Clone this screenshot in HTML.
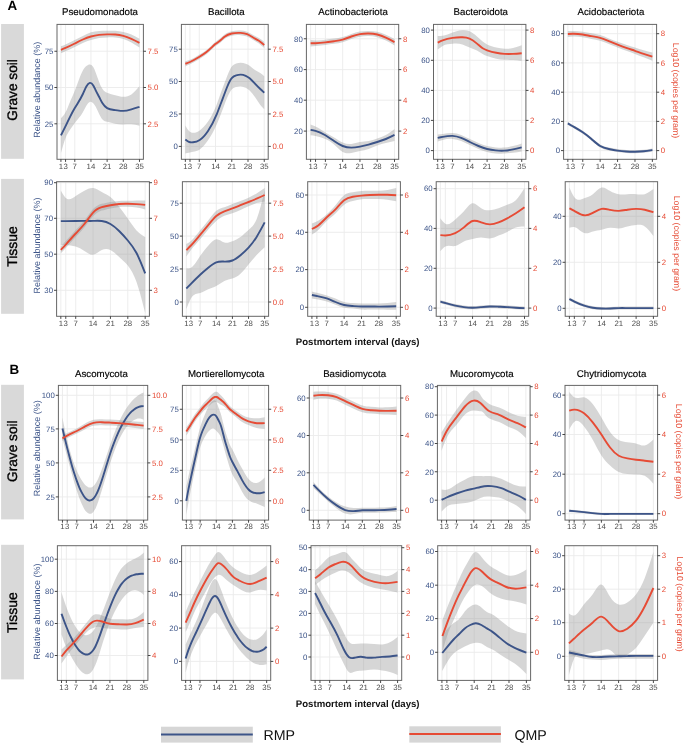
<!DOCTYPE html><html><head><meta charset="utf-8"><style>html,body{margin:0;padding:0;background:#fff;}svg{display:block;will-change:transform;text-rendering:geometricPrecision;}</style></head><body><svg width="685" height="744" viewBox="0 0 685 744">
<rect width="685" height="744" fill="#fff"/>
<text x="7.5" y="10.3" font-size="13.4" font-weight="bold" font-family="Liberation Sans, sans-serif" fill="#000">A</text>
<text x="9.5" y="373.6" font-size="13.4" font-weight="bold" font-family="Liberation Sans, sans-serif" fill="#000">B</text>
<rect x="1.1" y="24.0" width="22.8" height="134.8" fill="#D9D9D9"/>
<text transform="translate(17.3,89.9) rotate(-90)" text-anchor="middle" font-size="13.7" font-family="Liberation Sans, sans-serif" fill="#000" stroke="#000" stroke-width="0.35">Grave soil</text>
<rect x="1.1" y="178.9" width="22.8" height="134.9" fill="#D9D9D9"/>
<text transform="translate(17.3,246.5) rotate(-90)" text-anchor="middle" font-size="14.0" font-family="Liberation Sans, sans-serif" fill="#000" stroke="#000" stroke-width="0.35">Tissue</text>
<rect x="1.1" y="384.8" width="22.8" height="134.6" fill="#D9D9D9"/>
<text transform="translate(17.3,451.2) rotate(-90)" text-anchor="middle" font-size="13.7" font-family="Liberation Sans, sans-serif" fill="#000" stroke="#000" stroke-width="0.35">Grave soil</text>
<rect x="1.1" y="544.8" width="22.8" height="134.6" fill="#D9D9D9"/>
<text transform="translate(17.3,612.6) rotate(-90)" text-anchor="middle" font-size="14.0" font-family="Liberation Sans, sans-serif" fill="#000" stroke="#000" stroke-width="0.35">Tissue</text>
<text x="357.7" y="345.4" text-anchor="middle" font-size="9.6" font-weight="bold" font-family="Liberation Sans, sans-serif" fill="#111">Postmortem interval (days)</text>
<text x="357.7" y="707.4" text-anchor="middle" font-size="9.6" font-weight="bold" font-family="Liberation Sans, sans-serif" fill="#111">Postmortem interval (days)</text>
<rect x="161" y="726.7" width="91.8" height="15.9" fill="#D6D6D6"/>
<line x1="161" x2="252.8" y1="734.6" y2="734.6" stroke="#3C5488" stroke-width="2"/>
<text x="263.5" y="739.8" font-size="14.2" font-family="Liberation Sans, sans-serif" fill="#111">RMP</text>
<rect x="409.3" y="726.3" width="91.6" height="16.3" fill="#D6D6D6"/>
<line x1="409.3" x2="500.9" y1="734.0" y2="734.0" stroke="#E64B35" stroke-width="2"/>
<text x="514.5" y="739.8" font-size="14.2" font-family="Liberation Sans, sans-serif" fill="#111">QMP</text>
<g stroke="#EBEBEB" stroke-width="0.9">
<line x1="60.93" x2="60.93" y1="24.4" y2="159.3"/>
<line x1="65.55" x2="65.55" y1="24.4" y2="159.3"/>
<line x1="74.79" x2="74.79" y1="24.4" y2="159.3"/>
<line x1="90.96" x2="90.96" y1="24.4" y2="159.3"/>
<line x1="107.13" x2="107.13" y1="24.4" y2="159.3"/>
<line x1="123.30" x2="123.30" y1="24.4" y2="159.3"/>
<line x1="139.47" x2="139.47" y1="24.4" y2="159.3"/>
<line x1="57.0" x2="143.4" y1="51.25" y2="51.25"/>
<line x1="57.0" x2="143.4" y1="87.50" y2="87.50"/>
<line x1="57.0" x2="143.4" y1="123.80" y2="123.80"/>
</g>
<clipPath id="cA10"><rect x="57.0" y="24.4" width="86.4" height="134.9"/></clipPath>
<g clip-path="url(#cA10)">
<path d="M60.93,118.20 C62.47,116.69 64.01,115.17 65.55,112.30 C67.09,109.43 68.63,105.19 70.17,101.50 C71.71,97.81 73.25,94.65 74.79,90.80 C77.48,84.06 80.18,75.17 82.87,70.40 C84.03,68.36 85.18,67.07 86.34,66.10 C87.49,65.13 88.65,64.48 89.80,64.50 C90.96,64.52 92.11,65.19 93.27,67.10 C94.04,68.37 94.81,70.19 95.58,72.20 C96.73,75.22 97.89,78.68 99.04,81.70 C100.20,84.72 101.36,87.28 102.51,89.00 C104.05,91.29 105.59,92.07 107.13,92.70 C109.83,93.81 112.52,94.47 115.22,95.20 C117.91,95.93 120.61,96.71 123.30,96.80 C126.00,96.89 128.69,96.27 131.39,94.40 C134.08,92.53 136.78,89.42 139.47,86.30 L139.47,125.80 C136.78,125.10 134.08,124.39 131.39,124.20 C128.69,124.01 126.00,124.32 123.30,124.40 C120.61,124.48 117.91,124.32 115.22,123.80 C112.52,123.28 109.83,122.39 107.13,121.80 C105.59,121.46 104.05,121.22 102.51,119.50 C101.36,118.21 100.20,116.09 99.04,113.70 C97.89,111.31 96.73,108.66 95.58,106.60 C94.81,105.22 94.04,104.11 93.27,103.30 C92.11,102.09 90.96,101.56 89.80,102.00 C88.65,102.44 87.49,103.85 86.34,105.80 C85.18,107.75 84.03,110.24 82.87,112.30 C80.18,117.11 77.48,119.58 74.79,123.00 C73.25,124.96 71.71,127.22 70.17,129.50 C68.63,131.78 67.09,134.06 65.55,138.00 C64.01,141.94 62.47,147.52 60.93,153.10 Z" fill="#999" fill-opacity="0.4"/>
<path d="M60.93,46.20 C62.47,45.67 64.01,45.13 65.55,44.50 C68.63,43.23 71.71,41.56 74.79,40.00 C77.48,38.64 80.18,37.37 82.87,36.00 C85.57,34.63 88.26,33.17 90.96,32.30 C93.65,31.43 96.35,31.17 99.04,31.00 C101.74,30.83 104.44,30.76 107.13,30.70 C109.83,30.64 112.52,30.61 115.22,30.80 C117.91,30.99 120.61,31.41 123.30,32.00 C126.00,32.59 128.69,33.34 131.39,34.50 C134.08,35.66 136.78,37.23 139.47,38.80 L139.47,47.50 C136.78,45.74 134.08,43.98 131.39,42.50 C128.69,41.02 126.00,39.83 123.30,39.00 C120.61,38.17 117.91,37.71 115.22,37.50 C112.52,37.29 109.83,37.33 107.13,37.40 C104.44,37.47 101.74,37.55 99.04,38.00 C96.35,38.45 93.65,39.25 90.96,40.10 C88.26,40.95 85.57,41.83 82.87,43.00 C80.18,44.17 77.48,45.64 74.79,47.00 C71.71,48.56 68.63,49.99 65.55,51.30 C64.01,51.95 62.47,52.58 60.93,53.20 Z" fill="#999" fill-opacity="0.4"/>
<path d="M60.93,135.40 C62.47,132.38 64.01,129.37 65.55,126.20 C67.09,123.03 68.63,119.71 70.17,116.60 C71.71,113.49 73.25,110.60 74.79,108.00 C77.48,103.46 80.18,99.84 82.87,94.00 C84.03,91.50 85.18,88.59 86.34,86.50 C87.49,84.41 88.65,83.14 89.80,82.90 C90.96,82.66 92.11,83.46 93.27,85.40 C94.04,86.69 94.81,88.50 95.58,90.10 C96.73,92.51 97.89,94.47 99.04,96.70 C100.20,98.93 101.36,101.43 102.51,103.30 C104.05,105.80 105.59,107.19 107.13,108.10 C109.83,109.69 112.52,109.77 115.22,110.10 C117.91,110.43 120.61,110.99 123.30,110.90 C126.00,110.81 128.69,110.07 131.39,109.30 C134.08,108.53 136.78,107.71 139.47,106.90" fill="none" stroke="#3C5488" stroke-width="1.9" stroke-linejoin="round" stroke-linecap="butt"/>
<path d="M60.93,49.80 C62.47,49.18 64.01,48.56 65.55,47.90 C68.63,46.57 71.71,45.07 74.79,43.50 C77.48,42.13 80.18,40.72 82.87,39.50 C85.57,38.28 88.26,37.27 90.96,36.50 C93.65,35.73 96.35,35.22 99.04,34.90 C101.74,34.58 104.44,34.47 107.13,34.40 C109.83,34.33 112.52,34.31 115.22,34.50 C117.91,34.69 120.61,35.08 123.30,35.80 C126.00,36.52 128.69,37.58 131.39,38.80 C134.08,40.02 136.78,41.41 139.47,42.80" fill="none" stroke="#E64B35" stroke-width="1.9" stroke-linejoin="round" stroke-linecap="butt"/>
</g>
<rect x="57.0" y="24.4" width="86.4" height="134.9" fill="none" stroke="#666" stroke-width="1"/>
<g stroke="#333" stroke-width="0.9">
<line x1="60.93" x2="60.93" y1="159.3" y2="161.9"/>
<line x1="65.55" x2="65.55" y1="159.3" y2="161.9"/>
<line x1="74.79" x2="74.79" y1="159.3" y2="161.9"/>
<line x1="90.96" x2="90.96" y1="159.3" y2="161.9"/>
<line x1="107.13" x2="107.13" y1="159.3" y2="161.9"/>
<line x1="123.30" x2="123.30" y1="159.3" y2="161.9"/>
<line x1="139.47" x2="139.47" y1="159.3" y2="161.9"/>
<line x1="54.4" x2="57.0" y1="51.25" y2="51.25"/>
<line x1="54.4" x2="57.0" y1="87.50" y2="87.50"/>
<line x1="54.4" x2="57.0" y1="123.80" y2="123.80"/>
<line x1="143.4" x2="146.0" y1="51.25" y2="51.25"/>
<line x1="143.4" x2="146.0" y1="87.50" y2="87.50"/>
<line x1="143.4" x2="146.0" y1="123.80" y2="123.80"/>
</g>
<g font-size="7.8" font-family="Liberation Sans, sans-serif">
<text x="53.4" y="54.00" text-anchor="end" fill="#3C5488">75</text>
<text x="53.4" y="90.25" text-anchor="end" fill="#3C5488">50</text>
<text x="53.4" y="126.55" text-anchor="end" fill="#3C5488">25</text>
<text x="147.6" y="54.00" fill="#E64B35">7.5</text>
<text x="147.6" y="90.25" fill="#E64B35">5.0</text>
<text x="147.6" y="126.55" fill="#E64B35">2.5</text>
<text x="60.93" y="168.5" text-anchor="middle" fill="#4D4D4D">1</text>
<text x="65.55" y="168.5" text-anchor="middle" fill="#4D4D4D">3</text>
<text x="74.79" y="168.5" text-anchor="middle" fill="#4D4D4D">7</text>
<text x="90.96" y="168.5" text-anchor="middle" fill="#4D4D4D">14</text>
<text x="107.13" y="168.5" text-anchor="middle" fill="#4D4D4D">21</text>
<text x="123.30" y="168.5" text-anchor="middle" fill="#4D4D4D">28</text>
<text x="139.47" y="168.5" text-anchor="middle" fill="#4D4D4D">35</text>
</g>
<text x="100.05" y="14.9" text-anchor="middle" font-size="9.7" font-family="Liberation Sans, sans-serif" fill="#000" stroke="#000" stroke-width="0.15">Pseudomonadota</text>
<text transform="translate(40.0,89.7) rotate(-90)" text-anchor="middle" font-size="9" font-family="Liberation Sans, sans-serif" fill="#3C5488">Relative abundance (%)</text>
<g stroke="#EBEBEB" stroke-width="0.9">
<line x1="185.35" x2="185.35" y1="24.4" y2="159.3"/>
<line x1="189.99" x2="189.99" y1="24.4" y2="159.3"/>
<line x1="199.27" x2="199.27" y1="24.4" y2="159.3"/>
<line x1="215.52" x2="215.52" y1="24.4" y2="159.3"/>
<line x1="231.76" x2="231.76" y1="24.4" y2="159.3"/>
<line x1="248.01" x2="248.01" y1="24.4" y2="159.3"/>
<line x1="264.25" x2="264.25" y1="24.4" y2="159.3"/>
<line x1="181.4" x2="268.2" y1="49.20" y2="49.20"/>
<line x1="181.4" x2="268.2" y1="81.50" y2="81.50"/>
<line x1="181.4" x2="268.2" y1="113.95" y2="113.95"/>
<line x1="181.4" x2="268.2" y1="146.40" y2="146.40"/>
</g>
<clipPath id="cA11"><rect x="181.4" y="24.4" width="86.8" height="134.9"/></clipPath>
<g clip-path="url(#cA11)">
<path d="M185.35,125.50 C186.51,127.52 187.67,129.54 188.83,130.80 C190.22,132.31 191.61,132.74 193.00,132.80 C195.25,132.90 197.49,132.05 199.73,130.50 C202.44,128.63 205.15,125.73 207.86,121.80 C210.80,117.53 213.74,112.05 216.68,104.40 C218.07,100.77 219.46,96.66 220.85,92.80 C221.86,90.01 222.87,87.36 223.87,84.70 C224.95,81.84 226.04,78.97 227.12,76.20 C228.13,73.62 229.13,71.13 230.14,69.20 C230.76,68.01 231.38,67.05 231.99,66.30 C233.39,64.62 234.78,64.06 236.17,63.60 C237.72,63.08 239.27,62.69 240.81,62.70 C242.44,62.72 244.06,63.19 245.69,63.80 C247.00,64.29 248.32,64.88 249.63,65.80 C251.41,67.04 253.19,68.90 254.97,70.10 C256.75,71.30 258.53,71.85 260.31,73.00 C261.62,73.85 262.94,75.02 264.25,76.20 L264.25,109.20 C262.94,107.94 261.62,106.67 260.31,105.00 C258.53,102.74 256.75,99.72 254.97,97.10 C253.19,94.48 251.41,92.26 249.63,90.60 C248.32,89.37 247.00,88.45 245.69,87.80 C244.06,86.99 242.44,86.59 240.81,86.50 C239.27,86.42 237.72,86.62 236.17,87.00 C234.78,87.34 233.39,87.83 231.99,89.30 C231.38,89.95 230.76,90.81 230.14,91.80 C229.13,93.42 228.13,95.42 227.12,97.80 C226.04,100.37 224.95,103.39 223.87,106.30 C222.87,109.01 221.86,111.63 220.85,114.20 C219.46,117.76 218.07,121.24 216.68,124.40 C213.74,131.06 210.80,136.28 207.86,140.60 C205.15,144.58 202.44,147.79 199.73,149.50 C197.49,150.91 195.25,151.29 193.00,151.80 C191.61,152.12 190.22,152.49 188.83,152.80 C187.67,153.06 186.51,153.28 185.35,153.50 Z" fill="#999" fill-opacity="0.4"/>
<path d="M185.35,61.20 C186.89,60.80 188.44,60.39 189.99,59.80 C193.16,58.58 196.33,56.57 199.50,54.60 C201.82,53.16 204.14,51.75 206.47,49.90 C208.21,48.51 209.95,46.88 211.69,45.20 C212.89,44.04 214.09,42.85 215.28,41.90 C216.83,40.67 218.38,39.82 219.93,38.60 C221.47,37.38 223.02,35.79 224.57,34.60 C226.97,32.75 229.36,31.85 231.76,31.30 C234.70,30.62 237.64,30.47 240.58,30.60 C242.75,30.70 244.91,30.95 247.08,31.80 C249.09,32.59 251.10,33.90 253.11,35.00 C255.05,36.06 256.98,36.92 258.92,38.10 C260.70,39.19 262.48,40.54 264.25,41.90 L264.25,48.10 C262.48,46.44 260.70,44.79 258.92,43.50 C256.98,42.10 255.05,41.14 253.11,40.00 C251.10,38.82 249.09,37.45 247.08,36.60 C244.91,35.68 242.75,35.36 240.58,35.20 C237.64,34.98 234.70,35.05 231.76,35.70 C229.36,36.23 226.97,37.15 224.57,39.00 C223.02,40.20 221.47,41.78 219.93,43.00 C218.38,44.22 216.83,45.07 215.28,46.30 C214.09,47.26 212.89,48.44 211.69,49.60 C209.95,51.28 208.21,52.90 206.47,54.30 C204.14,56.16 201.82,57.62 199.50,59.00 C196.33,60.89 193.16,62.64 189.99,64.20 C188.44,64.96 186.89,65.68 185.35,66.40 Z" fill="#999" fill-opacity="0.4"/>
<path d="M185.35,139.50 C186.51,140.40 187.67,141.30 188.83,141.80 C190.22,142.40 191.61,142.43 193.00,142.30 C195.25,142.09 197.49,141.48 199.73,140.00 C202.44,138.21 205.15,135.15 207.86,131.20 C210.80,126.91 213.74,121.56 216.68,114.40 C218.07,111.01 219.46,107.21 220.85,103.50 C221.86,100.82 222.87,98.18 223.87,95.50 C224.95,92.61 226.04,89.67 227.12,87.00 C228.13,84.52 229.13,82.27 230.14,80.50 C230.76,79.41 231.38,78.50 231.99,77.80 C233.39,76.22 234.78,75.70 236.17,75.30 C237.72,74.85 239.27,74.55 240.81,74.60 C242.44,74.65 244.06,75.09 245.69,75.80 C247.00,76.37 248.32,77.13 249.63,78.20 C251.41,79.65 253.19,81.69 254.97,83.60 C256.75,85.51 258.53,87.29 260.31,89.00 C261.62,90.26 262.94,91.48 264.25,92.70" fill="none" stroke="#3C5488" stroke-width="1.9" stroke-linejoin="round" stroke-linecap="butt"/>
<path d="M185.35,63.80 C186.89,63.24 188.44,62.68 189.99,62.00 C193.16,60.61 196.33,58.73 199.50,56.80 C201.82,55.39 204.14,53.95 206.47,52.10 C208.21,50.71 209.95,49.08 211.69,47.40 C212.89,46.24 214.09,45.06 215.28,44.10 C216.83,42.87 218.38,42.02 219.93,40.80 C221.47,39.58 223.02,37.99 224.57,36.80 C226.97,34.95 229.36,34.04 231.76,33.50 C234.70,32.84 237.64,32.72 240.58,32.90 C242.75,33.03 244.91,33.32 247.08,34.20 C249.09,35.02 251.10,36.36 253.11,37.50 C255.05,38.60 256.98,39.51 258.92,40.80 C260.70,41.99 262.48,43.49 264.25,45.00" fill="none" stroke="#E64B35" stroke-width="1.9" stroke-linejoin="round" stroke-linecap="butt"/>
</g>
<rect x="181.4" y="24.4" width="86.8" height="134.9" fill="none" stroke="#666" stroke-width="1"/>
<g stroke="#333" stroke-width="0.9">
<line x1="185.35" x2="185.35" y1="159.3" y2="161.9"/>
<line x1="189.99" x2="189.99" y1="159.3" y2="161.9"/>
<line x1="199.27" x2="199.27" y1="159.3" y2="161.9"/>
<line x1="215.52" x2="215.52" y1="159.3" y2="161.9"/>
<line x1="231.76" x2="231.76" y1="159.3" y2="161.9"/>
<line x1="248.01" x2="248.01" y1="159.3" y2="161.9"/>
<line x1="264.25" x2="264.25" y1="159.3" y2="161.9"/>
<line x1="178.8" x2="181.4" y1="49.20" y2="49.20"/>
<line x1="178.8" x2="181.4" y1="81.50" y2="81.50"/>
<line x1="178.8" x2="181.4" y1="113.95" y2="113.95"/>
<line x1="178.8" x2="181.4" y1="146.40" y2="146.40"/>
<line x1="268.2" x2="270.8" y1="49.20" y2="49.20"/>
<line x1="268.2" x2="270.8" y1="81.50" y2="81.50"/>
<line x1="268.2" x2="270.8" y1="113.95" y2="113.95"/>
<line x1="268.2" x2="270.8" y1="146.40" y2="146.40"/>
</g>
<g font-size="7.8" font-family="Liberation Sans, sans-serif">
<text x="177.8" y="51.95" text-anchor="end" fill="#3C5488">75</text>
<text x="177.8" y="84.25" text-anchor="end" fill="#3C5488">50</text>
<text x="177.8" y="116.70" text-anchor="end" fill="#3C5488">25</text>
<text x="177.8" y="149.15" text-anchor="end" fill="#3C5488">0</text>
<text x="272.4" y="51.95" fill="#E64B35">7.5</text>
<text x="272.4" y="84.25" fill="#E64B35">5.0</text>
<text x="272.4" y="116.70" fill="#E64B35">2.5</text>
<text x="272.4" y="149.15" fill="#E64B35">0.0</text>
<text x="185.35" y="168.5" text-anchor="middle" fill="#4D4D4D">1</text>
<text x="189.99" y="168.5" text-anchor="middle" fill="#4D4D4D">3</text>
<text x="199.27" y="168.5" text-anchor="middle" fill="#4D4D4D">7</text>
<text x="215.52" y="168.5" text-anchor="middle" fill="#4D4D4D">14</text>
<text x="231.76" y="168.5" text-anchor="middle" fill="#4D4D4D">21</text>
<text x="248.01" y="168.5" text-anchor="middle" fill="#4D4D4D">28</text>
<text x="264.25" y="168.5" text-anchor="middle" fill="#4D4D4D">35</text>
</g>
<text x="226.30" y="14.9" text-anchor="middle" font-size="9.7" font-family="Liberation Sans, sans-serif" fill="#000" stroke="#000" stroke-width="0.15">Bacillota</text>
<g stroke="#EBEBEB" stroke-width="0.9">
<line x1="310.60" x2="310.60" y1="24.4" y2="159.3"/>
<line x1="315.53" x2="315.53" y1="24.4" y2="159.3"/>
<line x1="325.40" x2="325.40" y1="24.4" y2="159.3"/>
<line x1="342.68" x2="342.68" y1="24.4" y2="159.3"/>
<line x1="359.95" x2="359.95" y1="24.4" y2="159.3"/>
<line x1="377.23" x2="377.23" y1="24.4" y2="159.3"/>
<line x1="394.50" x2="394.50" y1="24.4" y2="159.3"/>
<line x1="306.4" x2="398.7" y1="38.75" y2="38.75"/>
<line x1="306.4" x2="398.7" y1="69.60" y2="69.60"/>
<line x1="306.4" x2="398.7" y1="100.20" y2="100.20"/>
<line x1="306.4" x2="398.7" y1="131.10" y2="131.10"/>
</g>
<clipPath id="cA12"><rect x="306.4" y="24.4" width="92.3" height="134.9"/></clipPath>
<g clip-path="url(#cA12)">
<path d="M310.60,124.40 C312.24,125.04 313.89,125.68 315.53,126.50 C318.82,128.14 322.11,130.50 325.40,132.50 C328.28,134.25 331.16,135.73 334.04,137.50 C336.92,139.27 339.80,141.34 342.68,142.60 C345.56,143.86 348.44,144.33 351.32,144.00 C354.20,143.67 357.07,142.54 359.95,142.00 C362.83,141.46 365.71,141.49 368.59,141.00 C371.47,140.51 374.35,139.48 377.23,138.50 C380.11,137.52 382.99,136.59 385.87,135.00 C388.75,133.41 391.63,131.15 394.50,128.90 L394.50,141.00 C391.63,141.67 388.75,142.34 385.87,143.00 C382.99,143.66 380.11,144.31 377.23,145.40 C374.35,146.49 371.47,148.03 368.59,149.00 C365.71,149.97 362.83,150.37 359.95,151.00 C357.07,151.63 354.20,152.50 351.32,153.00 C348.44,153.50 345.56,153.62 342.68,152.00 C339.80,150.38 336.92,147.02 334.04,144.50 C331.16,141.98 328.28,140.29 325.40,139.00 C322.11,137.53 318.82,136.59 315.53,136.00 C313.89,135.71 312.24,135.50 310.60,135.30 Z" fill="#999" fill-opacity="0.4"/>
<path d="M310.60,40.00 C312.24,40.17 313.89,40.34 315.53,40.40 C318.82,40.52 322.11,40.21 325.40,39.80 C328.28,39.44 331.16,39.01 334.04,38.60 C336.92,38.19 339.80,37.81 342.68,37.00 C345.56,36.19 348.44,34.95 351.32,33.90 C354.20,32.85 357.07,32.00 359.95,31.50 C362.83,31.00 365.71,30.86 368.59,30.90 C371.47,30.94 374.35,31.15 377.23,31.80 C380.11,32.45 382.99,33.54 385.87,34.80 C388.75,36.06 391.63,37.48 394.50,38.90 L394.50,45.50 C391.63,43.78 388.75,42.06 385.87,40.60 C382.99,39.14 380.11,37.94 377.23,37.20 C374.35,36.46 371.47,36.17 368.59,36.10 C365.71,36.03 362.83,36.20 359.95,36.70 C357.07,37.20 354.20,38.05 351.32,39.10 C348.44,40.15 345.56,41.39 342.68,42.20 C339.80,43.01 336.92,43.39 334.04,43.80 C331.16,44.21 328.28,44.64 325.40,45.00 C322.11,45.41 318.82,45.72 315.53,46.00 C313.89,46.14 312.24,46.27 310.60,46.40 Z" fill="#999" fill-opacity="0.4"/>
<path d="M310.60,129.90 C312.24,130.18 313.89,130.46 315.53,130.90 C318.82,131.79 322.11,133.34 325.40,135.30 C328.28,137.02 331.16,139.04 334.04,141.00 C336.92,142.96 339.80,144.84 342.68,146.00 C345.56,147.16 348.44,147.60 351.32,147.60 C354.20,147.60 357.07,147.15 359.95,146.60 C362.83,146.05 365.71,145.38 368.59,144.60 C371.47,143.82 374.35,142.91 377.23,142.00 C380.11,141.09 382.99,140.18 385.87,139.00 C388.75,137.82 391.63,136.36 394.50,134.90" fill="none" stroke="#3C5488" stroke-width="1.9" stroke-linejoin="round" stroke-linecap="butt"/>
<path d="M310.60,43.20 C312.24,43.22 313.89,43.24 315.53,43.20 C318.82,43.12 322.11,42.81 325.40,42.40 C328.28,42.04 331.16,41.61 334.04,41.20 C336.92,40.79 339.80,40.41 342.68,39.60 C345.56,38.79 348.44,37.55 351.32,36.50 C354.20,35.45 357.07,34.60 359.95,34.10 C362.83,33.60 365.71,33.45 368.59,33.50 C371.47,33.55 374.35,33.80 377.23,34.50 C380.11,35.20 382.99,36.34 385.87,37.70 C388.75,39.06 391.63,40.63 394.50,42.20" fill="none" stroke="#E64B35" stroke-width="1.9" stroke-linejoin="round" stroke-linecap="butt"/>
</g>
<rect x="306.4" y="24.4" width="92.3" height="134.9" fill="none" stroke="#666" stroke-width="1"/>
<g stroke="#333" stroke-width="0.9">
<line x1="310.60" x2="310.60" y1="159.3" y2="161.9"/>
<line x1="315.53" x2="315.53" y1="159.3" y2="161.9"/>
<line x1="325.40" x2="325.40" y1="159.3" y2="161.9"/>
<line x1="342.68" x2="342.68" y1="159.3" y2="161.9"/>
<line x1="359.95" x2="359.95" y1="159.3" y2="161.9"/>
<line x1="377.23" x2="377.23" y1="159.3" y2="161.9"/>
<line x1="394.50" x2="394.50" y1="159.3" y2="161.9"/>
<line x1="303.8" x2="306.4" y1="38.75" y2="38.75"/>
<line x1="303.8" x2="306.4" y1="69.60" y2="69.60"/>
<line x1="303.8" x2="306.4" y1="100.20" y2="100.20"/>
<line x1="303.8" x2="306.4" y1="131.10" y2="131.10"/>
<line x1="398.7" x2="401.3" y1="38.75" y2="38.75"/>
<line x1="398.7" x2="401.3" y1="69.60" y2="69.60"/>
<line x1="398.7" x2="401.3" y1="100.20" y2="100.20"/>
<line x1="398.7" x2="401.3" y1="131.10" y2="131.10"/>
</g>
<g font-size="7.8" font-family="Liberation Sans, sans-serif">
<text x="302.8" y="41.50" text-anchor="end" fill="#3C5488">80</text>
<text x="302.8" y="72.35" text-anchor="end" fill="#3C5488">60</text>
<text x="302.8" y="102.95" text-anchor="end" fill="#3C5488">40</text>
<text x="302.8" y="133.85" text-anchor="end" fill="#3C5488">20</text>
<text x="402.9" y="41.50" fill="#E64B35">8</text>
<text x="402.9" y="72.35" fill="#E64B35">6</text>
<text x="402.9" y="102.95" fill="#E64B35">4</text>
<text x="402.9" y="133.85" fill="#E64B35">2</text>
<text x="310.60" y="168.5" text-anchor="middle" fill="#4D4D4D">1</text>
<text x="315.53" y="168.5" text-anchor="middle" fill="#4D4D4D">3</text>
<text x="325.40" y="168.5" text-anchor="middle" fill="#4D4D4D">7</text>
<text x="342.68" y="168.5" text-anchor="middle" fill="#4D4D4D">14</text>
<text x="359.95" y="168.5" text-anchor="middle" fill="#4D4D4D">21</text>
<text x="377.23" y="168.5" text-anchor="middle" fill="#4D4D4D">28</text>
<text x="394.50" y="168.5" text-anchor="middle" fill="#4D4D4D">35</text>
</g>
<text x="353.10" y="14.9" text-anchor="middle" font-size="9.7" font-family="Liberation Sans, sans-serif" fill="#000" stroke="#000" stroke-width="0.15">Actinobacteriota</text>
<g stroke="#EBEBEB" stroke-width="0.9">
<line x1="437.70" x2="437.70" y1="24.4" y2="159.3"/>
<line x1="442.64" x2="442.64" y1="24.4" y2="159.3"/>
<line x1="452.52" x2="452.52" y1="24.4" y2="159.3"/>
<line x1="469.82" x2="469.82" y1="24.4" y2="159.3"/>
<line x1="487.11" x2="487.11" y1="24.4" y2="159.3"/>
<line x1="504.41" x2="504.41" y1="24.4" y2="159.3"/>
<line x1="521.70" x2="521.70" y1="24.4" y2="159.3"/>
<line x1="433.5" x2="525.9" y1="30.10" y2="30.10"/>
<line x1="433.5" x2="525.9" y1="60.30" y2="60.30"/>
<line x1="433.5" x2="525.9" y1="90.40" y2="90.40"/>
<line x1="433.5" x2="525.9" y1="120.40" y2="120.40"/>
<line x1="433.5" x2="525.9" y1="150.60" y2="150.60"/>
</g>
<clipPath id="cA13"><rect x="433.5" y="24.4" width="92.4" height="134.9"/></clipPath>
<g clip-path="url(#cA13)">
<path d="M437.70,134.40 C439.35,134.26 440.99,134.11 442.64,133.90 C445.94,133.47 449.23,132.77 452.52,132.90 C455.41,133.01 458.29,133.76 461.17,134.90 C464.05,136.04 466.94,137.56 469.82,139.00 C472.70,140.44 475.58,141.79 478.46,143.00 C481.35,144.21 484.23,145.27 487.11,146.00 C489.99,146.73 492.88,147.13 495.76,147.40 C498.64,147.67 501.52,147.80 504.41,147.60 C507.29,147.40 510.17,146.86 513.05,146.10 C515.94,145.34 518.82,144.37 521.70,143.40 L521.70,151.40 C518.82,151.85 515.94,152.30 513.05,152.70 C510.17,153.10 507.29,153.46 504.41,153.60 C501.52,153.74 498.64,153.65 495.76,153.40 C492.88,153.15 489.99,152.74 487.11,152.00 C484.23,151.26 481.35,150.20 478.46,149.00 C475.58,147.80 472.70,146.45 469.82,145.00 C466.94,143.55 464.05,142.01 461.17,140.90 C458.29,139.79 455.41,139.11 452.52,138.90 C449.23,138.67 445.94,139.05 442.64,139.90 C440.99,140.32 439.35,140.86 437.70,141.40 Z" fill="#999" fill-opacity="0.4"/>
<path d="M437.70,36.00 C439.35,35.99 440.99,35.97 442.64,35.70 C445.94,35.16 449.23,33.59 452.52,32.40 C455.82,31.21 459.11,30.38 462.41,30.20 C464.79,30.07 467.18,30.27 469.57,31.30 C472.04,32.36 474.51,34.31 476.98,36.50 C478.88,38.18 480.77,40.01 482.66,41.50 C484.15,42.67 485.63,43.63 487.11,44.40 C490.16,45.98 493.21,46.71 496.25,47.40 C499.05,48.03 501.85,48.62 504.65,48.80 C507.45,48.98 510.25,48.75 513.05,48.10 C515.94,47.43 518.82,46.32 521.70,45.20 L521.70,60.90 C518.82,60.57 515.94,60.25 513.05,60.10 C510.25,59.95 507.45,59.98 504.65,59.80 C501.85,59.62 499.05,59.25 496.25,58.70 C493.21,58.10 490.16,57.29 487.11,56.10 C485.63,55.52 484.15,54.85 482.66,54.00 C480.77,52.91 478.88,51.53 476.98,50.50 C474.51,49.16 472.04,48.44 469.57,47.40 C467.18,46.40 464.79,45.11 462.41,44.40 C459.11,43.42 455.82,43.54 452.52,43.70 C449.23,43.86 445.94,44.05 442.64,45.90 C440.99,46.82 439.35,48.16 437.70,49.50 Z" fill="#999" fill-opacity="0.4"/>
<path d="M437.70,137.90 C439.35,137.56 440.99,137.22 442.64,136.90 C445.94,136.26 449.23,135.72 452.52,135.90 C455.41,136.06 458.29,136.78 461.17,137.90 C464.05,139.02 466.94,140.56 469.82,142.00 C472.70,143.44 475.58,144.79 478.46,146.00 C481.35,147.21 484.23,148.27 487.11,149.00 C489.99,149.73 492.88,150.14 495.76,150.40 C498.64,150.66 501.52,150.77 504.41,150.60 C507.29,150.43 510.17,149.98 513.05,149.40 C515.94,148.82 518.82,148.11 521.70,147.40" fill="none" stroke="#3C5488" stroke-width="1.9" stroke-linejoin="round" stroke-linecap="butt"/>
<path d="M437.70,42.60 C439.35,41.82 440.99,41.04 442.64,40.40 C445.94,39.12 449.23,38.38 452.52,37.90 C455.82,37.42 459.11,37.20 462.41,37.30 C464.79,37.37 467.18,37.61 469.57,38.60 C472.04,39.62 474.51,41.45 476.98,43.60 C478.88,45.25 480.77,47.10 482.66,48.30 C484.15,49.24 485.63,49.79 487.11,50.30 C490.16,51.34 493.21,52.19 496.25,52.80 C499.05,53.36 501.85,53.73 504.65,53.90 C507.45,54.07 510.25,54.04 513.05,53.90 C515.94,53.75 518.82,53.48 521.70,53.20" fill="none" stroke="#E64B35" stroke-width="1.9" stroke-linejoin="round" stroke-linecap="butt"/>
</g>
<rect x="433.5" y="24.4" width="92.4" height="134.9" fill="none" stroke="#666" stroke-width="1"/>
<g stroke="#333" stroke-width="0.9">
<line x1="437.70" x2="437.70" y1="159.3" y2="161.9"/>
<line x1="442.64" x2="442.64" y1="159.3" y2="161.9"/>
<line x1="452.52" x2="452.52" y1="159.3" y2="161.9"/>
<line x1="469.82" x2="469.82" y1="159.3" y2="161.9"/>
<line x1="487.11" x2="487.11" y1="159.3" y2="161.9"/>
<line x1="504.41" x2="504.41" y1="159.3" y2="161.9"/>
<line x1="521.70" x2="521.70" y1="159.3" y2="161.9"/>
<line x1="430.9" x2="433.5" y1="30.10" y2="30.10"/>
<line x1="430.9" x2="433.5" y1="60.30" y2="60.30"/>
<line x1="430.9" x2="433.5" y1="90.40" y2="90.40"/>
<line x1="430.9" x2="433.5" y1="120.40" y2="120.40"/>
<line x1="430.9" x2="433.5" y1="150.60" y2="150.60"/>
<line x1="525.9" x2="528.5" y1="30.10" y2="30.10"/>
<line x1="525.9" x2="528.5" y1="60.30" y2="60.30"/>
<line x1="525.9" x2="528.5" y1="90.40" y2="90.40"/>
<line x1="525.9" x2="528.5" y1="120.40" y2="120.40"/>
<line x1="525.9" x2="528.5" y1="150.60" y2="150.60"/>
</g>
<g font-size="7.8" font-family="Liberation Sans, sans-serif">
<text x="429.9" y="32.85" text-anchor="end" fill="#3C5488">80</text>
<text x="429.9" y="63.05" text-anchor="end" fill="#3C5488">60</text>
<text x="429.9" y="93.15" text-anchor="end" fill="#3C5488">40</text>
<text x="429.9" y="123.15" text-anchor="end" fill="#3C5488">20</text>
<text x="429.9" y="153.35" text-anchor="end" fill="#3C5488">0</text>
<text x="530.1" y="32.85" fill="#E64B35">8</text>
<text x="530.1" y="63.05" fill="#E64B35">6</text>
<text x="530.1" y="93.15" fill="#E64B35">4</text>
<text x="530.1" y="123.15" fill="#E64B35">2</text>
<text x="530.1" y="153.35" fill="#E64B35">0</text>
<text x="437.70" y="168.5" text-anchor="middle" fill="#4D4D4D">1</text>
<text x="442.64" y="168.5" text-anchor="middle" fill="#4D4D4D">3</text>
<text x="452.52" y="168.5" text-anchor="middle" fill="#4D4D4D">7</text>
<text x="469.82" y="168.5" text-anchor="middle" fill="#4D4D4D">14</text>
<text x="487.11" y="168.5" text-anchor="middle" fill="#4D4D4D">21</text>
<text x="504.41" y="168.5" text-anchor="middle" fill="#4D4D4D">28</text>
<text x="521.70" y="168.5" text-anchor="middle" fill="#4D4D4D">35</text>
</g>
<text x="480.80" y="14.9" text-anchor="middle" font-size="9.7" font-family="Liberation Sans, sans-serif" fill="#000" stroke="#000" stroke-width="0.15">Bacteroidota</text>
<g stroke="#EBEBEB" stroke-width="0.9">
<line x1="567.83" x2="567.83" y1="24.4" y2="159.3"/>
<line x1="572.80" x2="572.80" y1="24.4" y2="159.3"/>
<line x1="582.75" x2="582.75" y1="24.4" y2="159.3"/>
<line x1="600.15" x2="600.15" y1="24.4" y2="159.3"/>
<line x1="617.56" x2="617.56" y1="24.4" y2="159.3"/>
<line x1="634.97" x2="634.97" y1="24.4" y2="159.3"/>
<line x1="652.37" x2="652.37" y1="24.4" y2="159.3"/>
<line x1="563.6" x2="656.6" y1="33.70" y2="33.70"/>
<line x1="563.6" x2="656.6" y1="62.90" y2="62.90"/>
<line x1="563.6" x2="656.6" y1="92.20" y2="92.20"/>
<line x1="563.6" x2="656.6" y1="121.40" y2="121.40"/>
<line x1="563.6" x2="656.6" y1="150.60" y2="150.60"/>
</g>
<clipPath id="cA14"><rect x="563.6" y="24.4" width="93.0" height="134.9"/></clipPath>
<g clip-path="url(#cA14)">
<path d="M567.83,121.90 C569.49,122.87 571.14,123.84 572.80,124.80 C576.12,126.71 579.43,128.57 582.75,130.80 C585.65,132.75 588.55,134.99 591.45,137.50 C594.35,140.01 597.25,142.78 600.15,144.50 C603.05,146.22 605.96,146.89 608.86,147.50 C611.76,148.11 614.66,148.67 617.56,149.10 C620.46,149.53 623.36,149.83 626.26,150.00 C629.16,150.17 632.07,150.22 634.97,150.20 C637.87,150.18 640.77,150.09 643.67,149.80 C646.57,149.51 649.47,149.00 652.37,148.50 L652.37,151.50 C649.47,152.00 646.57,152.51 643.67,152.80 C640.77,153.09 637.87,153.18 634.97,153.20 C632.07,153.22 629.16,153.17 626.26,153.00 C623.36,152.83 620.46,152.53 617.56,152.10 C614.66,151.67 611.76,151.11 608.86,150.50 C605.96,149.89 603.05,149.22 600.15,147.50 C597.25,145.78 594.35,143.01 591.45,140.50 C588.55,137.99 585.65,135.75 582.75,133.80 C579.43,131.57 576.12,129.71 572.80,127.80 C571.14,126.84 569.49,125.87 567.83,124.90 Z" fill="#999" fill-opacity="0.4"/>
<path d="M567.83,31.10 C569.49,31.01 571.14,30.91 572.80,30.90 C576.12,30.88 579.43,31.18 582.75,31.70 C585.65,32.16 588.55,32.78 591.45,33.30 C594.35,33.82 597.25,34.25 600.15,35.10 C603.05,35.95 605.96,37.23 608.86,38.40 C611.76,39.57 614.66,40.64 617.56,41.70 C620.46,42.76 623.36,43.82 626.26,44.80 C629.16,45.78 632.07,46.67 634.97,47.60 C637.87,48.53 640.77,49.48 643.67,50.30 C646.57,51.12 649.47,51.81 652.37,52.50 L652.37,60.70 C649.47,59.56 646.57,58.42 643.67,57.30 C640.77,56.18 637.87,55.08 634.97,54.00 C632.07,52.92 629.16,51.87 626.26,50.80 C623.36,49.73 620.46,48.63 617.56,47.50 C614.66,46.37 611.76,45.21 608.86,44.00 C605.96,42.79 603.05,41.54 600.15,40.70 C597.25,39.86 594.35,39.42 591.45,38.90 C588.55,38.38 585.65,37.79 582.75,37.30 C579.43,36.74 576.12,36.31 572.80,36.50 C571.14,36.60 569.49,36.85 567.83,37.10 Z" fill="#999" fill-opacity="0.4"/>
<path d="M567.83,123.40 C569.49,124.37 571.14,125.34 572.80,126.30 C576.12,128.21 579.43,130.07 582.75,132.30 C585.65,134.25 588.55,136.49 591.45,139.00 C594.35,141.51 597.25,144.28 600.15,146.00 C603.05,147.72 605.96,148.39 608.86,149.00 C611.76,149.61 614.66,150.17 617.56,150.60 C620.46,151.03 623.36,151.33 626.26,151.50 C629.16,151.67 632.07,151.72 634.97,151.70 C637.87,151.68 640.77,151.59 643.67,151.30 C646.57,151.01 649.47,150.50 652.37,150.00" fill="none" stroke="#3C5488" stroke-width="1.9" stroke-linejoin="round" stroke-linecap="butt"/>
<path d="M567.83,34.10 C569.49,33.93 571.14,33.75 572.80,33.70 C576.12,33.59 579.43,33.96 582.75,34.50 C585.65,34.97 588.55,35.58 591.45,36.10 C594.35,36.62 597.25,37.05 600.15,37.90 C603.05,38.75 605.96,40.01 608.86,41.20 C611.76,42.39 614.66,43.50 617.56,44.60 C620.46,45.70 623.36,46.77 626.26,47.80 C629.16,48.83 632.07,49.80 634.97,50.80 C637.87,51.80 640.77,52.83 643.67,53.80 C646.57,54.77 649.47,55.69 652.37,56.60" fill="none" stroke="#E64B35" stroke-width="1.9" stroke-linejoin="round" stroke-linecap="butt"/>
</g>
<rect x="563.6" y="24.4" width="93.0" height="134.9" fill="none" stroke="#666" stroke-width="1"/>
<g stroke="#333" stroke-width="0.9">
<line x1="567.83" x2="567.83" y1="159.3" y2="161.9"/>
<line x1="572.80" x2="572.80" y1="159.3" y2="161.9"/>
<line x1="582.75" x2="582.75" y1="159.3" y2="161.9"/>
<line x1="600.15" x2="600.15" y1="159.3" y2="161.9"/>
<line x1="617.56" x2="617.56" y1="159.3" y2="161.9"/>
<line x1="634.97" x2="634.97" y1="159.3" y2="161.9"/>
<line x1="652.37" x2="652.37" y1="159.3" y2="161.9"/>
<line x1="561.0" x2="563.6" y1="33.70" y2="33.70"/>
<line x1="561.0" x2="563.6" y1="62.90" y2="62.90"/>
<line x1="561.0" x2="563.6" y1="92.20" y2="92.20"/>
<line x1="561.0" x2="563.6" y1="121.40" y2="121.40"/>
<line x1="561.0" x2="563.6" y1="150.60" y2="150.60"/>
<line x1="656.6" x2="659.2" y1="33.70" y2="33.70"/>
<line x1="656.6" x2="659.2" y1="62.90" y2="62.90"/>
<line x1="656.6" x2="659.2" y1="92.20" y2="92.20"/>
<line x1="656.6" x2="659.2" y1="121.40" y2="121.40"/>
<line x1="656.6" x2="659.2" y1="150.60" y2="150.60"/>
</g>
<g font-size="7.8" font-family="Liberation Sans, sans-serif">
<text x="560.0" y="36.45" text-anchor="end" fill="#3C5488">80</text>
<text x="560.0" y="65.65" text-anchor="end" fill="#3C5488">60</text>
<text x="560.0" y="94.95" text-anchor="end" fill="#3C5488">40</text>
<text x="560.0" y="124.15" text-anchor="end" fill="#3C5488">20</text>
<text x="560.0" y="153.35" text-anchor="end" fill="#3C5488">0</text>
<text x="660.8" y="36.45" fill="#E64B35">8</text>
<text x="660.8" y="65.65" fill="#E64B35">6</text>
<text x="660.8" y="94.95" fill="#E64B35">4</text>
<text x="660.8" y="124.15" fill="#E64B35">2</text>
<text x="660.8" y="153.35" fill="#E64B35">0</text>
<text x="567.83" y="168.5" text-anchor="middle" fill="#4D4D4D">1</text>
<text x="572.80" y="168.5" text-anchor="middle" fill="#4D4D4D">3</text>
<text x="582.75" y="168.5" text-anchor="middle" fill="#4D4D4D">7</text>
<text x="600.15" y="168.5" text-anchor="middle" fill="#4D4D4D">14</text>
<text x="617.56" y="168.5" text-anchor="middle" fill="#4D4D4D">21</text>
<text x="634.97" y="168.5" text-anchor="middle" fill="#4D4D4D">28</text>
<text x="652.37" y="168.5" text-anchor="middle" fill="#4D4D4D">35</text>
</g>
<text x="610.95" y="14.9" text-anchor="middle" font-size="9.7" font-family="Liberation Sans, sans-serif" fill="#000" stroke="#000" stroke-width="0.15">Acidobacteriota</text>
<text transform="translate(673.0,90.5) rotate(90)" text-anchor="middle" font-size="8.75" font-family="Liberation Sans, sans-serif" fill="#E64B35">Log10 (copies per gram)</text>
<g stroke="#EBEBEB" stroke-width="0.9">
<line x1="60.82" x2="60.82" y1="181.7" y2="316.3"/>
<line x1="65.78" x2="65.78" y1="181.7" y2="316.3"/>
<line x1="75.71" x2="75.71" y1="181.7" y2="316.3"/>
<line x1="93.07" x2="93.07" y1="181.7" y2="316.3"/>
<line x1="110.44" x2="110.44" y1="181.7" y2="316.3"/>
<line x1="127.81" x2="127.81" y1="181.7" y2="316.3"/>
<line x1="145.18" x2="145.18" y1="181.7" y2="316.3"/>
<line x1="56.6" x2="149.4" y1="182.70" y2="182.70"/>
<line x1="56.6" x2="149.4" y1="218.30" y2="218.30"/>
<line x1="56.6" x2="149.4" y1="254.20" y2="254.20"/>
<line x1="56.6" x2="149.4" y1="290.30" y2="290.30"/>
</g>
<clipPath id="cA20"><rect x="56.6" y="181.7" width="92.8" height="134.6"/></clipPath>
<g clip-path="url(#cA20)">
<path d="M60.82,190.50 C62.47,193.48 64.13,196.47 65.78,198.00 C69.09,201.06 72.40,198.32 75.71,196.00 C78.60,193.97 81.50,192.27 84.39,190.70 C87.29,189.13 90.18,187.68 93.07,188.00 C95.97,188.32 98.86,190.40 101.76,192.00 C104.65,193.60 107.55,194.73 110.44,197.10 C113.34,199.47 116.23,203.07 119.13,206.80 C122.02,210.53 124.92,214.38 127.81,218.60 C130.71,222.82 133.60,227.39 136.50,230.50 C139.39,233.61 142.29,235.25 145.18,236.90 L145.18,313.00 C142.29,301.56 139.39,290.12 136.50,282.00 C133.60,273.88 130.71,269.06 127.81,265.50 C124.92,261.94 122.02,259.62 119.13,257.00 C116.23,254.38 113.34,251.46 110.44,250.00 C107.55,248.54 104.65,248.54 101.76,250.00 C98.86,251.46 95.97,254.37 93.07,254.70 C90.18,255.03 87.29,252.77 84.39,250.90 C81.50,249.03 78.60,247.55 75.71,246.60 C72.40,245.51 69.09,245.10 65.78,245.00 C64.13,244.95 62.47,244.97 60.82,245.00 Z" fill="#999" fill-opacity="0.4"/>
<path d="M60.82,246.30 C62.47,244.60 64.13,242.90 65.78,241.10 C67.43,239.30 69.09,237.38 70.74,235.50 C72.40,233.62 74.05,231.76 75.71,230.00 C78.60,226.92 81.50,224.11 84.39,220.50 C85.80,218.75 87.20,216.80 88.61,214.80 C90.10,212.68 91.59,210.50 93.07,208.90 C94.32,207.57 95.56,206.64 96.80,205.90 C98.45,204.92 100.11,204.29 101.76,203.80 C103.00,203.44 104.24,203.15 105.48,202.90 C107.14,202.56 108.79,202.27 110.44,202.00 C113.34,201.52 116.23,201.08 119.13,200.90 C122.02,200.72 124.92,200.81 127.81,200.80 C130.71,200.79 133.60,200.68 136.50,200.60 C139.39,200.52 142.29,200.46 145.18,200.40 L145.18,209.40 C142.29,208.73 139.39,208.06 136.50,207.60 C133.60,207.14 130.71,206.89 127.81,206.80 C124.92,206.71 122.02,206.78 119.13,207.10 C116.23,207.42 113.34,207.97 110.44,208.60 C108.79,208.96 107.14,209.34 105.48,209.70 C104.24,209.97 103.00,210.24 101.76,210.60 C100.11,211.08 98.45,211.75 96.80,212.90 C95.56,213.77 94.32,214.91 93.07,216.30 C91.59,217.97 90.10,219.99 88.61,222.00 C87.20,223.90 85.80,225.78 84.39,227.50 C81.50,231.04 78.60,233.90 75.71,237.00 C74.05,238.77 72.40,240.62 70.74,242.50 C69.09,244.38 67.43,246.29 65.78,248.10 C64.13,249.91 62.47,251.60 60.82,253.30 Z" fill="#999" fill-opacity="0.4"/>
<path d="M60.82,221.10 C62.47,221.10 64.13,221.10 65.78,221.10 C69.09,221.09 72.40,221.05 75.71,221.00 C78.60,220.95 81.50,220.90 84.39,220.90 C87.29,220.90 90.18,220.97 93.07,220.90 C95.97,220.83 98.86,220.63 101.76,221.00 C104.65,221.37 107.55,222.30 110.44,224.00 C113.34,225.70 116.23,228.15 119.13,231.00 C122.02,233.85 124.92,237.09 127.81,240.50 C130.71,243.91 133.60,247.49 136.50,253.00 C139.39,258.51 142.29,265.96 145.18,273.40" fill="none" stroke="#3C5488" stroke-width="1.9" stroke-linejoin="round" stroke-linecap="butt"/>
<path d="M60.82,249.80 C62.47,248.10 64.13,246.41 65.78,244.60 C67.43,242.79 69.09,240.88 70.74,239.00 C72.40,237.12 74.05,235.27 75.71,233.50 C78.60,230.41 81.50,227.58 84.39,224.00 C85.80,222.26 87.20,220.35 88.61,218.40 C90.10,216.34 91.59,214.23 93.07,212.60 C94.32,211.24 95.56,210.20 96.80,209.40 C98.45,208.33 100.11,207.69 101.76,207.20 C103.00,206.84 104.24,206.56 105.48,206.30 C107.14,205.95 108.79,205.62 110.44,205.30 C113.34,204.75 116.23,204.25 119.13,204.00 C122.02,203.75 124.92,203.76 127.81,203.80 C130.71,203.84 133.60,203.91 136.50,204.10 C139.39,204.29 142.29,204.59 145.18,204.90" fill="none" stroke="#E64B35" stroke-width="1.9" stroke-linejoin="round" stroke-linecap="butt"/>
</g>
<rect x="56.6" y="181.7" width="92.8" height="134.6" fill="none" stroke="#666" stroke-width="1"/>
<g stroke="#333" stroke-width="0.9">
<line x1="60.82" x2="60.82" y1="316.3" y2="318.9"/>
<line x1="65.78" x2="65.78" y1="316.3" y2="318.9"/>
<line x1="75.71" x2="75.71" y1="316.3" y2="318.9"/>
<line x1="93.07" x2="93.07" y1="316.3" y2="318.9"/>
<line x1="110.44" x2="110.44" y1="316.3" y2="318.9"/>
<line x1="127.81" x2="127.81" y1="316.3" y2="318.9"/>
<line x1="145.18" x2="145.18" y1="316.3" y2="318.9"/>
<line x1="54.0" x2="56.6" y1="182.70" y2="182.70"/>
<line x1="54.0" x2="56.6" y1="218.30" y2="218.30"/>
<line x1="54.0" x2="56.6" y1="254.20" y2="254.20"/>
<line x1="54.0" x2="56.6" y1="290.30" y2="290.30"/>
<line x1="149.4" x2="152.0" y1="182.70" y2="182.70"/>
<line x1="149.4" x2="152.0" y1="218.30" y2="218.30"/>
<line x1="149.4" x2="152.0" y1="254.20" y2="254.20"/>
<line x1="149.4" x2="152.0" y1="290.30" y2="290.30"/>
</g>
<g font-size="7.8" font-family="Liberation Sans, sans-serif">
<text x="53.0" y="185.45" text-anchor="end" fill="#3C5488">90</text>
<text x="53.0" y="221.05" text-anchor="end" fill="#3C5488">70</text>
<text x="53.0" y="256.95" text-anchor="end" fill="#3C5488">50</text>
<text x="53.0" y="293.05" text-anchor="end" fill="#3C5488">30</text>
<text x="153.6" y="185.45" fill="#E64B35">9</text>
<text x="153.6" y="221.05" fill="#E64B35">7</text>
<text x="153.6" y="256.95" fill="#E64B35">5</text>
<text x="153.6" y="293.05" fill="#E64B35">3</text>
<text x="60.82" y="325.5" text-anchor="middle" fill="#4D4D4D">1</text>
<text x="65.78" y="325.5" text-anchor="middle" fill="#4D4D4D">3</text>
<text x="75.71" y="325.5" text-anchor="middle" fill="#4D4D4D">7</text>
<text x="93.07" y="325.5" text-anchor="middle" fill="#4D4D4D">14</text>
<text x="110.44" y="325.5" text-anchor="middle" fill="#4D4D4D">21</text>
<text x="127.81" y="325.5" text-anchor="middle" fill="#4D4D4D">28</text>
<text x="145.18" y="325.5" text-anchor="middle" fill="#4D4D4D">35</text>
</g>
<text transform="translate(40.0,245.5) rotate(-90)" text-anchor="middle" font-size="9" font-family="Liberation Sans, sans-serif" fill="#3C5488">Relative abundance (%)</text>
<g stroke="#EBEBEB" stroke-width="0.9">
<line x1="186.32" x2="186.32" y1="181.7" y2="316.3"/>
<line x1="190.93" x2="190.93" y1="181.7" y2="316.3"/>
<line x1="200.15" x2="200.15" y1="181.7" y2="316.3"/>
<line x1="216.28" x2="216.28" y1="181.7" y2="316.3"/>
<line x1="232.41" x2="232.41" y1="181.7" y2="316.3"/>
<line x1="248.55" x2="248.55" y1="181.7" y2="316.3"/>
<line x1="264.68" x2="264.68" y1="181.7" y2="316.3"/>
<line x1="182.4" x2="268.6" y1="203.20" y2="203.20"/>
<line x1="182.4" x2="268.6" y1="236.10" y2="236.10"/>
<line x1="182.4" x2="268.6" y1="268.95" y2="268.95"/>
<line x1="182.4" x2="268.6" y1="302.00" y2="302.00"/>
</g>
<clipPath id="cA21"><rect x="182.4" y="181.7" width="86.2" height="134.6"/></clipPath>
<g clip-path="url(#cA21)">
<path d="M186.32,268.30 C187.85,268.42 189.39,268.55 190.93,267.70 C194.00,266.00 197.07,260.41 200.15,255.90 C202.84,251.95 205.52,248.83 208.21,245.70 C210.90,242.57 213.59,239.43 216.28,239.20 C218.97,238.97 221.66,241.66 224.35,242.50 C227.04,243.34 229.73,242.32 232.41,241.20 C235.10,240.08 237.79,238.87 240.48,236.90 C243.17,234.93 245.86,232.19 248.55,229.90 C251.24,227.61 253.93,225.77 256.61,219.20 C259.30,212.63 261.99,201.31 264.68,190.00 L264.68,247.20 C261.99,249.67 259.30,252.14 256.61,255.00 C253.93,257.86 251.24,261.13 248.55,264.50 C245.86,267.87 243.17,271.36 240.48,273.80 C237.79,276.24 235.10,277.64 232.41,278.50 C229.73,279.36 227.04,279.70 224.35,281.00 C221.66,282.30 218.97,284.58 216.28,286.00 C213.59,287.42 210.90,287.99 208.21,289.20 C205.52,290.41 202.84,292.27 200.15,293.00 C197.07,293.84 194.00,293.21 190.93,298.40 C189.39,301.00 187.85,305.05 186.32,309.10 Z" fill="#999" fill-opacity="0.4"/>
<path d="M186.32,244.00 C187.85,243.15 189.39,242.29 190.93,241.00 C194.00,238.42 197.07,234.09 200.15,230.30 C202.84,226.98 205.52,224.08 208.21,220.60 C210.90,217.12 213.59,213.07 216.28,210.80 C218.97,208.53 221.66,208.03 224.35,207.20 C227.04,206.37 229.73,205.21 232.41,204.10 C235.10,202.99 237.79,201.92 240.48,200.90 C243.17,199.88 245.86,198.91 248.55,197.70 C251.24,196.49 253.93,195.06 256.61,193.40 C259.30,191.74 261.99,189.87 264.68,188.00 L264.68,201.40 C261.99,201.79 259.30,202.18 256.61,203.00 C253.93,203.82 251.24,205.06 248.55,206.30 C245.86,207.54 243.17,208.78 240.48,210.00 C237.79,211.22 235.10,212.44 232.41,213.30 C229.73,214.16 227.04,214.68 224.35,215.80 C221.66,216.92 218.97,218.63 216.28,221.00 C213.59,223.37 210.90,226.39 208.21,229.60 C205.52,232.81 202.84,236.20 200.15,239.30 C197.07,242.84 194.00,246.01 190.93,250.00 C189.39,252.00 187.85,254.20 186.32,256.40 Z" fill="#999" fill-opacity="0.4"/>
<path d="M186.32,288.50 C187.85,286.93 189.39,285.37 190.93,283.80 C194.00,280.67 197.07,277.55 200.15,274.70 C202.84,272.21 205.52,269.93 208.21,267.70 C210.90,265.47 213.59,263.28 216.28,262.30 C218.97,261.32 221.66,261.54 224.35,261.60 C227.04,261.66 229.73,261.57 232.41,260.50 C235.10,259.43 237.79,257.40 240.48,255.20 C243.17,253.00 245.86,250.65 248.55,247.70 C251.24,244.75 253.93,241.22 256.61,236.90 C259.30,232.58 261.99,227.49 264.68,222.40" fill="none" stroke="#3C5488" stroke-width="1.9" stroke-linejoin="round" stroke-linecap="butt"/>
<path d="M186.32,250.20 C187.85,248.67 189.39,247.14 190.93,245.50 C194.00,242.22 197.07,238.48 200.15,234.80 C202.84,231.58 205.52,228.41 208.21,225.10 C210.90,221.79 213.59,218.36 216.28,216.00 C218.97,213.64 221.66,212.36 224.35,211.30 C227.04,210.24 229.73,209.39 232.41,208.40 C235.10,207.41 237.79,206.29 240.48,205.20 C243.17,204.11 245.86,203.06 248.55,202.00 C251.24,200.94 253.93,199.87 256.61,198.70 C259.30,197.53 261.99,196.27 264.68,195.00" fill="none" stroke="#E64B35" stroke-width="1.9" stroke-linejoin="round" stroke-linecap="butt"/>
</g>
<rect x="182.4" y="181.7" width="86.2" height="134.6" fill="none" stroke="#666" stroke-width="1"/>
<g stroke="#333" stroke-width="0.9">
<line x1="186.32" x2="186.32" y1="316.3" y2="318.9"/>
<line x1="190.93" x2="190.93" y1="316.3" y2="318.9"/>
<line x1="200.15" x2="200.15" y1="316.3" y2="318.9"/>
<line x1="216.28" x2="216.28" y1="316.3" y2="318.9"/>
<line x1="232.41" x2="232.41" y1="316.3" y2="318.9"/>
<line x1="248.55" x2="248.55" y1="316.3" y2="318.9"/>
<line x1="264.68" x2="264.68" y1="316.3" y2="318.9"/>
<line x1="179.8" x2="182.4" y1="203.20" y2="203.20"/>
<line x1="179.8" x2="182.4" y1="236.10" y2="236.10"/>
<line x1="179.8" x2="182.4" y1="268.95" y2="268.95"/>
<line x1="179.8" x2="182.4" y1="302.00" y2="302.00"/>
<line x1="268.6" x2="271.2" y1="203.20" y2="203.20"/>
<line x1="268.6" x2="271.2" y1="236.10" y2="236.10"/>
<line x1="268.6" x2="271.2" y1="268.95" y2="268.95"/>
<line x1="268.6" x2="271.2" y1="302.00" y2="302.00"/>
</g>
<g font-size="7.8" font-family="Liberation Sans, sans-serif">
<text x="178.8" y="205.95" text-anchor="end" fill="#3C5488">75</text>
<text x="178.8" y="238.85" text-anchor="end" fill="#3C5488">50</text>
<text x="178.8" y="271.70" text-anchor="end" fill="#3C5488">25</text>
<text x="178.8" y="304.75" text-anchor="end" fill="#3C5488">0</text>
<text x="272.8" y="205.95" fill="#E64B35">7.5</text>
<text x="272.8" y="238.85" fill="#E64B35">5.0</text>
<text x="272.8" y="271.70" fill="#E64B35">2.5</text>
<text x="272.8" y="304.75" fill="#E64B35">0.0</text>
<text x="186.32" y="325.5" text-anchor="middle" fill="#4D4D4D">1</text>
<text x="190.93" y="325.5" text-anchor="middle" fill="#4D4D4D">3</text>
<text x="200.15" y="325.5" text-anchor="middle" fill="#4D4D4D">7</text>
<text x="216.28" y="325.5" text-anchor="middle" fill="#4D4D4D">14</text>
<text x="232.41" y="325.5" text-anchor="middle" fill="#4D4D4D">21</text>
<text x="248.55" y="325.5" text-anchor="middle" fill="#4D4D4D">28</text>
<text x="264.68" y="325.5" text-anchor="middle" fill="#4D4D4D">35</text>
</g>
<g stroke="#EBEBEB" stroke-width="0.9">
<line x1="311.91" x2="311.91" y1="181.7" y2="316.3"/>
<line x1="316.87" x2="316.87" y1="181.7" y2="316.3"/>
<line x1="326.79" x2="326.79" y1="181.7" y2="316.3"/>
<line x1="344.14" x2="344.14" y1="181.7" y2="316.3"/>
<line x1="361.49" x2="361.49" y1="181.7" y2="316.3"/>
<line x1="378.84" x2="378.84" y1="181.7" y2="316.3"/>
<line x1="396.19" x2="396.19" y1="181.7" y2="316.3"/>
<line x1="307.7" x2="400.4" y1="195.00" y2="195.00"/>
<line x1="307.7" x2="400.4" y1="232.30" y2="232.30"/>
<line x1="307.7" x2="400.4" y1="269.60" y2="269.60"/>
<line x1="307.7" x2="400.4" y1="307.30" y2="307.30"/>
</g>
<clipPath id="cA22"><rect x="307.7" y="181.7" width="92.7" height="134.6"/></clipPath>
<g clip-path="url(#cA22)">
<path d="M311.91,291.50 C313.57,291.94 315.22,292.38 316.87,292.80 C320.18,293.64 323.48,294.39 326.79,295.40 C329.68,296.28 332.57,297.36 335.46,298.60 C338.35,299.84 341.24,301.25 344.14,302.00 C347.03,302.75 349.92,302.85 352.81,303.00 C355.70,303.15 358.59,303.33 361.49,303.40 C364.38,303.47 367.27,303.41 370.16,303.40 C373.05,303.39 375.94,303.44 378.84,303.40 C381.73,303.36 384.62,303.25 387.51,303.00 C390.40,302.75 393.29,302.38 396.19,302.00 L396.19,309.70 C393.29,309.71 390.40,309.72 387.51,309.70 C384.62,309.68 381.73,309.63 378.84,309.60 C375.94,309.57 373.05,309.54 370.16,309.60 C367.27,309.66 364.38,309.79 361.49,309.60 C358.59,309.41 355.70,308.88 352.81,308.60 C349.92,308.32 347.03,308.29 344.14,307.70 C341.24,307.11 338.35,305.97 335.46,304.80 C332.57,303.63 329.68,302.42 326.79,301.50 C323.48,300.45 320.18,299.77 316.87,299.20 C315.22,298.92 313.57,298.66 311.91,298.40 Z" fill="#999" fill-opacity="0.4"/>
<path d="M311.91,223.40 C313.57,222.85 315.22,222.30 316.87,221.50 C320.18,219.89 323.48,217.26 326.79,214.30 C329.68,211.71 332.57,208.86 335.46,205.30 C338.35,201.74 341.24,197.46 344.14,195.20 C347.03,192.94 349.92,192.69 352.81,192.30 C355.70,191.91 358.59,191.37 361.49,191.10 C364.38,190.83 367.27,190.81 370.16,190.80 C373.05,190.79 375.94,190.79 378.84,190.70 C381.73,190.61 384.62,190.45 387.51,190.00 C390.40,189.55 393.29,188.83 396.19,188.10 L396.19,201.20 C393.29,200.70 390.40,200.20 387.51,199.80 C384.62,199.40 381.73,199.10 378.84,199.00 C375.94,198.90 373.05,199.00 370.16,199.00 C367.27,199.00 364.38,198.89 361.49,199.20 C358.59,199.51 355.70,200.24 352.81,201.00 C349.92,201.76 347.03,202.56 344.14,204.80 C341.24,207.04 338.35,210.71 335.46,213.50 C332.57,216.29 329.68,218.19 326.79,221.00 C323.48,224.21 320.18,228.60 316.87,231.30 C315.22,232.65 313.57,233.57 311.91,234.50 Z" fill="#999" fill-opacity="0.4"/>
<path d="M311.91,295.00 C313.57,295.34 315.22,295.67 316.87,296.00 C320.18,296.65 323.48,297.27 326.79,298.40 C329.68,299.38 332.57,300.76 335.46,302.00 C338.35,303.24 341.24,304.36 344.14,305.00 C347.03,305.64 349.92,305.80 352.81,306.00 C355.70,306.20 358.59,306.42 361.49,306.50 C364.38,306.58 367.27,306.50 370.16,306.50 C373.05,306.50 375.94,306.59 378.84,306.60 C381.73,306.61 384.62,306.56 387.51,306.50 C390.40,306.44 393.29,306.37 396.19,306.30" fill="none" stroke="#3C5488" stroke-width="1.9" stroke-linejoin="round" stroke-linecap="butt"/>
<path d="M311.91,229.00 C313.57,228.26 315.22,227.52 316.87,226.40 C320.18,224.16 323.48,220.41 326.79,217.30 C329.68,214.57 332.57,212.33 335.46,209.30 C338.35,206.27 341.24,202.44 344.14,200.20 C347.03,197.96 349.92,197.32 352.81,196.80 C355.70,196.28 358.59,195.89 361.49,195.60 C364.38,195.31 367.27,195.12 370.16,195.00 C373.05,194.88 375.94,194.84 378.84,194.80 C381.73,194.76 384.62,194.73 387.51,194.80 C390.40,194.87 393.29,195.03 396.19,195.20" fill="none" stroke="#E64B35" stroke-width="1.9" stroke-linejoin="round" stroke-linecap="butt"/>
</g>
<rect x="307.7" y="181.7" width="92.7" height="134.6" fill="none" stroke="#666" stroke-width="1"/>
<g stroke="#333" stroke-width="0.9">
<line x1="311.91" x2="311.91" y1="316.3" y2="318.9"/>
<line x1="316.87" x2="316.87" y1="316.3" y2="318.9"/>
<line x1="326.79" x2="326.79" y1="316.3" y2="318.9"/>
<line x1="344.14" x2="344.14" y1="316.3" y2="318.9"/>
<line x1="361.49" x2="361.49" y1="316.3" y2="318.9"/>
<line x1="378.84" x2="378.84" y1="316.3" y2="318.9"/>
<line x1="396.19" x2="396.19" y1="316.3" y2="318.9"/>
<line x1="305.1" x2="307.7" y1="195.00" y2="195.00"/>
<line x1="305.1" x2="307.7" y1="232.30" y2="232.30"/>
<line x1="305.1" x2="307.7" y1="269.60" y2="269.60"/>
<line x1="305.1" x2="307.7" y1="307.30" y2="307.30"/>
<line x1="400.4" x2="403.0" y1="195.00" y2="195.00"/>
<line x1="400.4" x2="403.0" y1="232.30" y2="232.30"/>
<line x1="400.4" x2="403.0" y1="269.60" y2="269.60"/>
<line x1="400.4" x2="403.0" y1="307.30" y2="307.30"/>
</g>
<g font-size="7.8" font-family="Liberation Sans, sans-serif">
<text x="304.1" y="197.75" text-anchor="end" fill="#3C5488">60</text>
<text x="304.1" y="235.05" text-anchor="end" fill="#3C5488">40</text>
<text x="304.1" y="272.35" text-anchor="end" fill="#3C5488">20</text>
<text x="304.1" y="310.05" text-anchor="end" fill="#3C5488">0</text>
<text x="404.6" y="197.75" fill="#E64B35">6</text>
<text x="404.6" y="235.05" fill="#E64B35">4</text>
<text x="404.6" y="272.35" fill="#E64B35">2</text>
<text x="404.6" y="310.05" fill="#E64B35">0</text>
<text x="311.91" y="325.5" text-anchor="middle" fill="#4D4D4D">1</text>
<text x="316.87" y="325.5" text-anchor="middle" fill="#4D4D4D">3</text>
<text x="326.79" y="325.5" text-anchor="middle" fill="#4D4D4D">7</text>
<text x="344.14" y="325.5" text-anchor="middle" fill="#4D4D4D">14</text>
<text x="361.49" y="325.5" text-anchor="middle" fill="#4D4D4D">21</text>
<text x="378.84" y="325.5" text-anchor="middle" fill="#4D4D4D">28</text>
<text x="396.19" y="325.5" text-anchor="middle" fill="#4D4D4D">35</text>
</g>
<g stroke="#EBEBEB" stroke-width="0.9">
<line x1="440.40" x2="440.40" y1="181.7" y2="316.3"/>
<line x1="445.35" x2="445.35" y1="181.7" y2="316.3"/>
<line x1="455.24" x2="455.24" y1="181.7" y2="316.3"/>
<line x1="472.56" x2="472.56" y1="181.7" y2="316.3"/>
<line x1="489.87" x2="489.87" y1="181.7" y2="316.3"/>
<line x1="507.18" x2="507.18" y1="181.7" y2="316.3"/>
<line x1="524.50" x2="524.50" y1="181.7" y2="316.3"/>
<line x1="436.2" x2="528.7" y1="188.70" y2="188.70"/>
<line x1="436.2" x2="528.7" y1="228.40" y2="228.40"/>
<line x1="436.2" x2="528.7" y1="268.30" y2="268.30"/>
<line x1="436.2" x2="528.7" y1="308.10" y2="308.10"/>
</g>
<clipPath id="cA23"><rect x="436.2" y="181.7" width="92.5" height="134.6"/></clipPath>
<g clip-path="url(#cA23)">
<path d="M440.40,300.00 C442.05,300.47 443.70,300.93 445.35,301.40 C448.65,302.33 451.95,303.27 455.24,304.00 C458.13,304.64 461.02,305.13 463.90,305.50 C466.79,305.87 469.67,306.12 472.56,306.10 C475.44,306.08 478.33,305.78 481.21,305.50 C484.10,305.22 486.98,304.96 489.87,304.90 C492.76,304.84 495.64,304.98 498.53,305.10 C501.41,305.22 504.30,305.32 507.18,305.50 C510.07,305.68 512.95,305.92 515.84,306.10 C518.72,306.28 521.61,306.39 524.50,306.50 L524.50,309.70 C521.61,309.59 518.72,309.48 515.84,309.30 C512.95,309.12 510.07,308.88 507.18,308.70 C504.30,308.52 501.41,308.42 498.53,308.30 C495.64,308.18 492.76,308.04 489.87,308.10 C486.98,308.16 484.10,308.42 481.21,308.70 C478.33,308.98 475.44,309.28 472.56,309.30 C469.67,309.32 466.79,309.07 463.90,308.70 C461.02,308.33 458.13,307.84 455.24,307.20 C451.95,306.47 448.65,305.53 445.35,304.60 C443.70,304.13 442.05,303.67 440.40,303.20 Z" fill="#999" fill-opacity="0.4"/>
<path d="M440.40,218.30 C442.05,220.57 443.70,222.85 445.35,223.80 C448.65,225.71 451.95,222.33 455.24,219.40 C458.13,216.83 461.02,214.61 463.90,211.30 C466.79,207.99 469.67,203.61 472.56,203.20 C475.44,202.79 478.33,206.37 481.21,208.30 C484.10,210.23 486.98,210.52 489.87,210.30 C492.76,210.08 495.64,209.35 498.53,208.30 C501.41,207.25 504.30,205.88 507.18,204.80 C510.07,203.72 512.95,202.93 515.84,200.20 C518.72,197.47 521.61,192.78 524.50,188.10 L524.50,226.40 C521.61,226.39 518.72,226.39 515.84,227.40 C512.95,228.41 510.07,230.44 507.18,231.90 C504.30,233.36 501.41,234.27 498.53,235.50 C495.64,236.73 492.76,238.29 489.87,238.50 C486.98,238.71 484.10,237.57 481.21,237.50 C478.33,237.43 475.44,238.44 472.56,239.10 C469.67,239.76 466.79,240.08 463.90,241.50 C461.02,242.92 458.13,245.43 455.24,246.00 C451.95,246.65 448.65,244.77 445.35,246.60 C443.70,247.51 442.05,249.36 440.40,251.20 Z" fill="#999" fill-opacity="0.4"/>
<path d="M440.40,301.60 C442.05,302.07 443.70,302.53 445.35,303.00 C448.65,303.93 451.95,304.87 455.24,305.60 C458.13,306.24 461.02,306.73 463.90,307.10 C466.79,307.47 469.67,307.72 472.56,307.70 C475.44,307.68 478.33,307.38 481.21,307.10 C484.10,306.82 486.98,306.56 489.87,306.50 C492.76,306.44 495.64,306.58 498.53,306.70 C501.41,306.82 504.30,306.92 507.18,307.10 C510.07,307.28 512.95,307.52 515.84,307.70 C518.72,307.88 521.61,307.99 524.50,308.10" fill="none" stroke="#3C5488" stroke-width="1.9" stroke-linejoin="round" stroke-linecap="butt"/>
<path d="M440.40,235.10 C442.05,235.30 443.70,235.51 445.35,235.50 C448.65,235.49 451.95,234.64 455.24,233.10 C458.13,231.75 461.02,229.86 463.90,227.40 C466.79,224.94 469.67,221.90 472.56,221.00 C475.44,220.10 478.33,221.33 481.21,222.40 C484.10,223.47 486.98,224.38 489.87,224.40 C492.76,224.42 495.64,223.55 498.53,222.40 C501.41,221.25 504.30,219.83 507.18,218.30 C510.07,216.77 512.95,215.15 515.84,213.30 C518.72,211.45 521.61,209.38 524.50,207.30" fill="none" stroke="#E64B35" stroke-width="1.9" stroke-linejoin="round" stroke-linecap="butt"/>
</g>
<rect x="436.2" y="181.7" width="92.5" height="134.6" fill="none" stroke="#666" stroke-width="1"/>
<g stroke="#333" stroke-width="0.9">
<line x1="440.40" x2="440.40" y1="316.3" y2="318.9"/>
<line x1="445.35" x2="445.35" y1="316.3" y2="318.9"/>
<line x1="455.24" x2="455.24" y1="316.3" y2="318.9"/>
<line x1="472.56" x2="472.56" y1="316.3" y2="318.9"/>
<line x1="489.87" x2="489.87" y1="316.3" y2="318.9"/>
<line x1="507.18" x2="507.18" y1="316.3" y2="318.9"/>
<line x1="524.50" x2="524.50" y1="316.3" y2="318.9"/>
<line x1="433.6" x2="436.2" y1="188.70" y2="188.70"/>
<line x1="433.6" x2="436.2" y1="228.40" y2="228.40"/>
<line x1="433.6" x2="436.2" y1="268.30" y2="268.30"/>
<line x1="433.6" x2="436.2" y1="308.10" y2="308.10"/>
<line x1="528.7" x2="531.3" y1="188.70" y2="188.70"/>
<line x1="528.7" x2="531.3" y1="228.40" y2="228.40"/>
<line x1="528.7" x2="531.3" y1="268.30" y2="268.30"/>
<line x1="528.7" x2="531.3" y1="308.10" y2="308.10"/>
</g>
<g font-size="7.8" font-family="Liberation Sans, sans-serif">
<text x="432.6" y="191.45" text-anchor="end" fill="#3C5488">60</text>
<text x="432.6" y="231.15" text-anchor="end" fill="#3C5488">40</text>
<text x="432.6" y="271.05" text-anchor="end" fill="#3C5488">20</text>
<text x="432.6" y="310.85" text-anchor="end" fill="#3C5488">0</text>
<text x="532.9" y="191.45" fill="#E64B35">6</text>
<text x="532.9" y="231.15" fill="#E64B35">4</text>
<text x="532.9" y="271.05" fill="#E64B35">2</text>
<text x="532.9" y="310.85" fill="#E64B35">0</text>
<text x="440.40" y="325.5" text-anchor="middle" fill="#4D4D4D">1</text>
<text x="445.35" y="325.5" text-anchor="middle" fill="#4D4D4D">3</text>
<text x="455.24" y="325.5" text-anchor="middle" fill="#4D4D4D">7</text>
<text x="472.56" y="325.5" text-anchor="middle" fill="#4D4D4D">14</text>
<text x="489.87" y="325.5" text-anchor="middle" fill="#4D4D4D">21</text>
<text x="507.18" y="325.5" text-anchor="middle" fill="#4D4D4D">28</text>
<text x="524.50" y="325.5" text-anchor="middle" fill="#4D4D4D">35</text>
</g>
<g stroke="#EBEBEB" stroke-width="0.9">
<line x1="569.40" x2="569.40" y1="181.7" y2="316.3"/>
<line x1="574.34" x2="574.34" y1="181.7" y2="316.3"/>
<line x1="584.22" x2="584.22" y1="181.7" y2="316.3"/>
<line x1="601.52" x2="601.52" y1="181.7" y2="316.3"/>
<line x1="618.81" x2="618.81" y1="181.7" y2="316.3"/>
<line x1="636.11" x2="636.11" y1="181.7" y2="316.3"/>
<line x1="653.40" x2="653.40" y1="181.7" y2="316.3"/>
<line x1="565.2" x2="657.6" y1="216.30" y2="216.30"/>
<line x1="565.2" x2="657.6" y1="262.30" y2="262.30"/>
<line x1="565.2" x2="657.6" y1="308.30" y2="308.30"/>
</g>
<clipPath id="cA24"><rect x="565.2" y="181.7" width="92.4" height="134.6"/></clipPath>
<g clip-path="url(#cA24)">
<path d="M569.40,297.50 C571.05,298.39 572.69,299.29 574.34,300.10 C577.64,301.73 580.93,303.05 584.22,304.10 C587.11,305.02 589.99,305.73 592.87,306.20 C595.75,306.67 598.64,306.89 601.52,307.00 C604.40,307.11 607.28,307.11 610.16,307.00 C613.05,306.89 615.93,306.68 618.81,306.60 C621.69,306.52 624.58,306.58 627.46,306.60 C630.34,306.62 633.22,306.61 636.11,306.60 C638.99,306.59 641.87,306.60 644.75,306.60 C647.64,306.60 650.52,306.60 653.40,306.60 L653.40,309.60 C650.52,309.60 647.64,309.60 644.75,309.60 C641.87,309.60 638.99,309.59 636.11,309.60 C633.22,309.61 630.34,309.62 627.46,309.60 C624.58,309.58 621.69,309.52 618.81,309.60 C615.93,309.68 613.05,309.89 610.16,310.00 C607.28,310.11 604.40,310.11 601.52,310.00 C598.64,309.89 595.75,309.67 592.87,309.20 C589.99,308.73 587.11,308.02 584.22,307.10 C580.93,306.05 577.64,304.73 574.34,303.10 C572.69,302.29 571.05,301.39 569.40,300.50 Z" fill="#999" fill-opacity="0.4"/>
<path d="M569.40,187.50 C571.05,191.26 572.69,195.03 574.34,197.20 C577.64,201.54 580.93,199.52 584.22,198.20 C587.11,197.04 589.99,196.42 592.87,194.20 C595.75,191.98 598.64,188.16 601.52,187.50 C604.40,186.84 607.28,189.36 610.16,191.10 C613.05,192.84 615.93,193.82 618.81,194.20 C621.69,194.58 624.58,194.35 627.46,194.20 C630.34,194.05 633.22,193.96 636.11,194.20 C638.99,194.44 641.87,195.00 644.75,194.20 C647.64,193.40 650.52,191.25 653.40,189.10 L653.40,235.90 C650.52,232.07 647.64,228.23 644.75,226.40 C641.87,224.57 638.99,224.73 636.11,225.00 C633.22,225.27 630.34,225.65 627.46,226.40 C624.58,227.15 621.69,228.28 618.81,228.40 C615.93,228.52 613.05,227.65 610.16,227.80 C607.28,227.95 604.40,229.14 601.52,229.80 C598.64,230.46 595.75,230.61 592.87,231.50 C589.99,232.39 587.11,234.01 584.22,233.10 C580.93,232.06 577.64,227.69 574.34,227.00 C572.69,226.65 571.05,227.23 569.40,227.80 Z" fill="#999" fill-opacity="0.4"/>
<path d="M569.40,299.00 C571.05,299.89 572.69,300.79 574.34,301.60 C577.64,303.23 580.93,304.55 584.22,305.60 C587.11,306.52 589.99,307.23 592.87,307.70 C595.75,308.17 598.64,308.39 601.52,308.50 C604.40,308.61 607.28,308.61 610.16,308.50 C613.05,308.39 615.93,308.18 618.81,308.10 C621.69,308.02 624.58,308.08 627.46,308.10 C630.34,308.12 633.22,308.11 636.11,308.10 C638.99,308.09 641.87,308.10 644.75,308.10 C647.64,308.10 650.52,308.10 653.40,308.10" fill="none" stroke="#3C5488" stroke-width="1.9" stroke-linejoin="round" stroke-linecap="butt"/>
<path d="M569.40,208.30 C571.05,209.14 572.69,209.97 574.34,210.90 C577.64,212.75 580.93,214.97 584.22,215.30 C587.11,215.59 589.99,214.44 592.87,212.90 C595.75,211.36 598.64,209.43 601.52,208.90 C604.40,208.37 607.28,209.24 610.16,209.90 C613.05,210.56 615.93,211.00 618.81,210.90 C621.69,210.80 624.58,210.17 627.46,209.70 C630.34,209.23 633.22,208.94 636.11,208.90 C638.99,208.86 641.87,209.09 644.75,209.70 C647.64,210.31 650.52,211.31 653.40,212.30" fill="none" stroke="#E64B35" stroke-width="1.9" stroke-linejoin="round" stroke-linecap="butt"/>
</g>
<rect x="565.2" y="181.7" width="92.4" height="134.6" fill="none" stroke="#666" stroke-width="1"/>
<g stroke="#333" stroke-width="0.9">
<line x1="569.40" x2="569.40" y1="316.3" y2="318.9"/>
<line x1="574.34" x2="574.34" y1="316.3" y2="318.9"/>
<line x1="584.22" x2="584.22" y1="316.3" y2="318.9"/>
<line x1="601.52" x2="601.52" y1="316.3" y2="318.9"/>
<line x1="618.81" x2="618.81" y1="316.3" y2="318.9"/>
<line x1="636.11" x2="636.11" y1="316.3" y2="318.9"/>
<line x1="653.40" x2="653.40" y1="316.3" y2="318.9"/>
<line x1="562.6" x2="565.2" y1="216.30" y2="216.30"/>
<line x1="562.6" x2="565.2" y1="262.30" y2="262.30"/>
<line x1="562.6" x2="565.2" y1="308.30" y2="308.30"/>
<line x1="657.6" x2="660.2" y1="216.30" y2="216.30"/>
<line x1="657.6" x2="660.2" y1="262.30" y2="262.30"/>
<line x1="657.6" x2="660.2" y1="308.30" y2="308.30"/>
</g>
<g font-size="7.8" font-family="Liberation Sans, sans-serif">
<text x="561.6" y="219.05" text-anchor="end" fill="#3C5488">40</text>
<text x="561.6" y="265.05" text-anchor="end" fill="#3C5488">20</text>
<text x="561.6" y="311.05" text-anchor="end" fill="#3C5488">0</text>
<text x="661.8" y="219.05" fill="#E64B35">4</text>
<text x="661.8" y="265.05" fill="#E64B35">2</text>
<text x="661.8" y="311.05" fill="#E64B35">0</text>
<text x="569.40" y="325.5" text-anchor="middle" fill="#4D4D4D">1</text>
<text x="574.34" y="325.5" text-anchor="middle" fill="#4D4D4D">3</text>
<text x="584.22" y="325.5" text-anchor="middle" fill="#4D4D4D">7</text>
<text x="601.52" y="325.5" text-anchor="middle" fill="#4D4D4D">14</text>
<text x="618.81" y="325.5" text-anchor="middle" fill="#4D4D4D">21</text>
<text x="636.11" y="325.5" text-anchor="middle" fill="#4D4D4D">28</text>
<text x="653.40" y="325.5" text-anchor="middle" fill="#4D4D4D">35</text>
</g>
<text transform="translate(673.6,243.4) rotate(90)" text-anchor="middle" font-size="8.75" font-family="Liberation Sans, sans-serif" fill="#E64B35">Log10 (copies per gram)</text>
<g stroke="#EBEBEB" stroke-width="0.9">
<line x1="62.46" x2="62.46" y1="385.4" y2="520.1"/>
<line x1="67.23" x2="67.23" y1="385.4" y2="520.1"/>
<line x1="76.79" x2="76.79" y1="385.4" y2="520.1"/>
<line x1="93.50" x2="93.50" y1="385.4" y2="520.1"/>
<line x1="110.21" x2="110.21" y1="385.4" y2="520.1"/>
<line x1="126.93" x2="126.93" y1="385.4" y2="520.1"/>
<line x1="143.64" x2="143.64" y1="385.4" y2="520.1"/>
<line x1="58.4" x2="147.7" y1="395.30" y2="395.30"/>
<line x1="58.4" x2="147.7" y1="428.90" y2="428.90"/>
<line x1="58.4" x2="147.7" y1="462.90" y2="462.90"/>
<line x1="58.4" x2="147.7" y1="496.90" y2="496.90"/>
</g>
<clipPath id="cB10"><rect x="58.4" y="385.4" width="89.3" height="134.7"/></clipPath>
<g clip-path="url(#cB10)">
<path d="M62.46,417.48 C63.25,421.62 64.05,425.76 64.85,429.59 C65.64,433.42 66.44,436.94 67.23,440.25 C68.03,443.57 68.83,446.68 69.62,449.58 C70.42,452.49 71.21,455.18 72.01,457.69 C72.81,460.20 73.60,462.52 74.40,464.68 C75.19,466.84 75.99,468.83 76.79,470.66 C77.58,472.50 78.38,474.19 79.17,475.75 C79.97,477.31 80.76,478.74 81.56,480.04 C82.36,481.34 83.15,482.51 83.95,483.52 C84.74,484.52 85.54,485.36 86.34,486.02 C87.13,486.67 87.93,487.14 88.72,487.38 C89.52,487.63 90.32,487.66 91.11,487.45 C91.91,487.24 92.70,486.79 93.50,486.06 C94.30,485.34 95.09,484.34 95.89,483.06 C96.68,481.78 97.48,480.21 98.27,478.45 C99.07,476.68 99.87,474.71 100.66,472.62 C101.46,470.53 102.25,468.31 103.05,466.03 C103.85,463.74 104.64,461.39 105.44,459.01 C106.23,456.62 107.03,454.21 107.83,451.80 C108.62,449.39 109.42,447.00 110.21,444.65 C111.01,442.30 111.80,439.99 112.60,437.78 C113.40,435.57 114.19,433.45 114.99,431.42 C115.78,429.40 116.58,427.47 117.38,425.62 C118.17,423.78 118.97,422.03 119.76,420.36 C120.56,418.69 121.36,417.11 122.15,415.61 C122.95,414.11 123.74,412.69 124.54,411.35 C125.34,410.01 126.13,408.75 126.93,407.57 C127.72,406.38 128.52,405.27 129.31,404.23 C130.11,403.20 130.91,402.23 131.70,401.33 C132.50,400.43 133.29,399.60 134.09,398.84 C134.89,398.07 135.68,397.37 136.48,396.73 C137.27,396.09 138.07,395.51 138.87,394.99 C139.66,394.46 140.46,393.99 141.25,393.59 C142.05,393.19 142.85,392.85 143.64,392.51 L143.64,419.66 C142.85,419.34 142.05,419.02 141.25,418.82 C140.46,418.63 139.66,418.56 138.87,418.58 C138.07,418.60 137.27,418.72 136.48,418.94 C135.68,419.16 134.89,419.48 134.09,419.89 C133.29,420.31 132.50,420.83 131.70,421.45 C130.91,422.07 130.11,422.80 129.31,423.62 C128.52,424.44 127.72,425.37 126.93,426.39 C126.13,427.42 125.34,428.54 124.54,429.77 C123.74,431.00 122.95,432.33 122.15,433.76 C121.36,435.20 120.56,436.73 119.76,438.37 C118.97,440.01 118.17,441.75 117.38,443.60 C116.58,445.44 115.78,447.39 114.99,449.44 C114.19,451.49 113.40,453.64 112.60,455.90 C111.80,458.16 111.01,460.51 110.21,462.94 C109.42,465.37 108.62,467.88 107.83,470.43 C107.03,472.99 106.23,475.59 105.44,478.22 C104.64,480.85 103.85,483.50 103.05,486.16 C102.25,488.82 101.46,491.49 100.66,494.09 C99.87,496.69 99.07,499.22 98.27,501.53 C97.48,503.84 96.68,505.93 95.89,507.65 C95.09,509.37 94.30,510.73 93.50,511.72 C92.70,512.71 91.91,513.33 91.11,513.63 C90.32,513.93 89.52,513.91 88.72,513.59 C87.93,513.27 87.13,512.65 86.34,511.77 C85.54,510.89 84.74,509.75 83.95,508.38 C83.15,507.01 82.36,505.41 81.56,503.61 C80.76,501.82 79.97,499.82 79.17,497.66 C78.38,495.49 77.58,493.16 76.79,490.70 C75.99,488.24 75.19,485.64 74.40,482.94 C73.60,480.24 72.81,477.44 72.01,474.57 C71.21,471.70 70.42,468.76 69.62,465.79 C68.83,462.81 68.03,459.80 67.23,456.78 C66.44,453.76 65.64,450.73 64.85,447.74 C64.05,444.75 63.25,441.80 62.46,438.86 Z" fill="#999" fill-opacity="0.4"/>
<path d="M62.46,435.90 C64.05,434.93 65.64,433.95 67.23,433.10 C70.42,431.39 73.60,430.17 76.79,428.50 C79.57,427.04 82.36,425.23 85.14,423.60 C87.93,421.97 90.71,420.52 93.50,419.80 C96.28,419.08 99.07,419.11 101.86,419.20 C104.64,419.29 107.43,419.45 110.21,419.60 C113.00,419.75 115.78,419.87 118.57,420.10 C121.36,420.33 124.14,420.65 126.93,420.90 C129.71,421.15 132.50,421.31 135.28,421.50 C138.07,421.69 140.86,421.89 143.64,422.10 L143.64,429.10 C140.86,428.69 138.07,428.27 135.28,427.90 C132.50,427.53 129.71,427.20 126.93,426.90 C124.14,426.60 121.36,426.31 118.57,426.10 C115.78,425.89 113.00,425.75 110.21,425.60 C107.43,425.45 104.64,425.28 101.86,425.20 C99.07,425.12 96.28,425.14 93.50,425.80 C90.71,426.46 87.93,427.78 85.14,429.20 C82.36,430.62 79.57,432.15 76.79,433.50 C73.60,435.05 70.42,436.37 67.23,438.10 C65.64,438.97 64.05,439.93 62.46,440.90 Z" fill="#999" fill-opacity="0.4"/>
<path d="M62.46,428.50 C63.25,431.85 64.05,435.21 64.85,438.50 C65.64,441.78 66.44,445.00 67.23,448.14 C68.03,451.28 68.83,454.34 69.62,457.31 C70.42,460.28 71.21,463.14 72.01,465.90 C72.81,468.65 73.60,471.29 74.40,473.79 C75.19,476.29 75.99,478.66 76.79,480.87 C77.58,483.09 78.38,485.15 79.17,487.04 C79.97,488.93 80.76,490.65 81.56,492.18 C82.36,493.71 83.15,495.05 83.95,496.18 C84.74,497.30 85.54,498.23 86.34,498.92 C87.13,499.61 87.93,500.08 88.72,500.30 C89.52,500.52 90.32,500.49 91.11,500.20 C91.91,499.91 92.70,499.35 93.50,498.51 C94.30,497.67 95.09,496.54 95.89,495.13 C96.68,493.71 97.48,492.00 98.27,490.08 C99.07,488.15 99.87,486.01 100.66,483.72 C101.46,481.43 102.25,478.99 103.05,476.47 C103.85,473.95 104.64,471.35 105.44,468.74 C106.23,466.14 107.03,463.52 107.83,460.97 C108.62,458.42 109.42,455.95 110.21,453.57 C111.01,451.18 111.80,448.89 112.60,446.70 C113.40,444.50 114.19,442.39 114.99,440.38 C115.78,438.37 116.58,436.46 117.38,434.63 C118.17,432.81 118.97,431.07 119.76,429.43 C120.56,427.79 121.36,426.23 122.15,424.77 C122.95,423.31 123.74,421.94 124.54,420.65 C125.34,419.37 126.13,418.17 126.93,417.06 C127.72,415.95 128.52,414.93 129.31,413.99 C130.11,413.05 130.91,412.20 131.70,411.44 C132.50,410.67 133.29,409.99 134.09,409.39 C134.89,408.79 135.68,408.27 136.48,407.84 C137.27,407.40 138.07,407.05 138.87,406.78 C139.66,406.50 140.46,406.30 141.25,406.20 C142.05,406.10 142.85,406.11 143.64,406.11" fill="none" stroke="#3C5488" stroke-width="1.9" stroke-linejoin="round" stroke-linecap="butt"/>
<path d="M62.46,438.40 C64.05,437.43 65.64,436.46 67.23,435.60 C70.42,433.88 73.60,432.61 76.79,431.00 C79.57,429.59 82.36,427.93 85.14,426.40 C87.93,424.87 90.71,423.49 93.50,422.80 C96.28,422.11 99.07,422.11 101.86,422.20 C104.64,422.29 107.43,422.45 110.21,422.60 C113.00,422.75 115.78,422.88 118.57,423.10 C121.36,423.32 124.14,423.62 126.93,423.90 C129.71,424.18 132.50,424.42 135.28,424.70 C138.07,424.98 140.86,425.29 143.64,425.60" fill="none" stroke="#E64B35" stroke-width="1.9" stroke-linejoin="round" stroke-linecap="butt"/>
</g>
<rect x="58.4" y="385.4" width="89.3" height="134.7" fill="none" stroke="#666" stroke-width="1"/>
<g stroke="#333" stroke-width="0.9">
<line x1="62.46" x2="62.46" y1="520.1" y2="522.7"/>
<line x1="67.23" x2="67.23" y1="520.1" y2="522.7"/>
<line x1="76.79" x2="76.79" y1="520.1" y2="522.7"/>
<line x1="93.50" x2="93.50" y1="520.1" y2="522.7"/>
<line x1="110.21" x2="110.21" y1="520.1" y2="522.7"/>
<line x1="126.93" x2="126.93" y1="520.1" y2="522.7"/>
<line x1="143.64" x2="143.64" y1="520.1" y2="522.7"/>
<line x1="55.8" x2="58.4" y1="395.30" y2="395.30"/>
<line x1="55.8" x2="58.4" y1="428.90" y2="428.90"/>
<line x1="55.8" x2="58.4" y1="462.90" y2="462.90"/>
<line x1="55.8" x2="58.4" y1="496.90" y2="496.90"/>
<line x1="147.7" x2="150.3" y1="395.30" y2="395.30"/>
<line x1="147.7" x2="150.3" y1="428.90" y2="428.90"/>
<line x1="147.7" x2="150.3" y1="462.90" y2="462.90"/>
<line x1="147.7" x2="150.3" y1="496.90" y2="496.90"/>
</g>
<g font-size="7.8" font-family="Liberation Sans, sans-serif">
<text x="54.8" y="398.05" text-anchor="end" fill="#3C5488">100</text>
<text x="54.8" y="431.65" text-anchor="end" fill="#3C5488">75</text>
<text x="54.8" y="465.65" text-anchor="end" fill="#3C5488">50</text>
<text x="54.8" y="499.65" text-anchor="end" fill="#3C5488">25</text>
<text x="151.9" y="398.05" fill="#E64B35">10.0</text>
<text x="151.9" y="431.65" fill="#E64B35">7.5</text>
<text x="151.9" y="465.65" fill="#E64B35">5.0</text>
<text x="151.9" y="499.65" fill="#E64B35">2.5</text>
<text x="62.46" y="529.3" text-anchor="middle" fill="#4D4D4D">1</text>
<text x="67.23" y="529.3" text-anchor="middle" fill="#4D4D4D">3</text>
<text x="76.79" y="529.3" text-anchor="middle" fill="#4D4D4D">7</text>
<text x="93.50" y="529.3" text-anchor="middle" fill="#4D4D4D">14</text>
<text x="110.21" y="529.3" text-anchor="middle" fill="#4D4D4D">21</text>
<text x="126.93" y="529.3" text-anchor="middle" fill="#4D4D4D">28</text>
<text x="143.64" y="529.3" text-anchor="middle" fill="#4D4D4D">35</text>
</g>
<text x="101.45" y="376.5" text-anchor="middle" font-size="9.7" font-family="Liberation Sans, sans-serif" fill="#000" stroke="#000" stroke-width="0.15">Ascomycota</text>
<text transform="translate(40.0,448.2) rotate(-90)" text-anchor="middle" font-size="9" font-family="Liberation Sans, sans-serif" fill="#3C5488">Relative abundance (%)</text>
<g stroke="#EBEBEB" stroke-width="0.9">
<line x1="186.32" x2="186.32" y1="385.4" y2="520.1"/>
<line x1="190.93" x2="190.93" y1="385.4" y2="520.1"/>
<line x1="200.15" x2="200.15" y1="385.4" y2="520.1"/>
<line x1="216.28" x2="216.28" y1="385.4" y2="520.1"/>
<line x1="232.41" x2="232.41" y1="385.4" y2="520.1"/>
<line x1="248.55" x2="248.55" y1="385.4" y2="520.1"/>
<line x1="264.68" x2="264.68" y1="385.4" y2="520.1"/>
<line x1="182.4" x2="268.6" y1="409.25" y2="409.25"/>
<line x1="182.4" x2="268.6" y1="439.90" y2="439.90"/>
<line x1="182.4" x2="268.6" y1="470.30" y2="470.30"/>
<line x1="182.4" x2="268.6" y1="500.80" y2="500.80"/>
</g>
<clipPath id="cB11"><rect x="182.4" y="385.4" width="86.2" height="134.7"/></clipPath>
<g clip-path="url(#cB11)">
<path d="M186.32,486.80 C187.09,482.85 187.85,478.91 188.62,475.40 C189.39,471.89 190.16,468.82 190.93,465.60 C191.70,462.38 192.46,459.01 193.23,455.80 C194.00,452.59 194.77,449.53 195.54,446.30 C196.92,440.49 198.30,434.16 199.69,429.10 C200.61,425.73 201.53,422.92 202.45,420.50 C203.37,418.08 204.30,416.03 205.22,413.80 C206.14,411.57 207.06,409.16 207.98,407.20 C208.98,405.08 209.98,403.50 210.98,402.40 C211.90,401.39 212.82,400.79 213.75,400.50 C214.59,400.23 215.44,400.23 216.28,401.70 C217.05,403.04 217.82,405.60 218.59,407.70 C219.28,409.59 219.97,411.12 220.66,413.30 C221.97,417.43 223.27,423.91 224.58,428.80 C225.58,432.54 226.58,435.35 227.57,438.30 C228.42,440.80 229.26,443.41 230.11,445.30 C230.88,447.02 231.65,448.15 232.41,449.50 C234.03,452.33 235.64,456.11 237.25,459.40 C238.87,462.69 240.48,465.49 242.09,468.40 C243.48,470.89 244.86,473.47 246.24,475.70 C247.01,476.94 247.78,478.07 248.55,479.00 C249.55,480.21 250.55,481.07 251.54,481.70 C253.23,482.77 254.92,483.19 256.61,482.90 C257.77,482.70 258.92,482.18 260.07,481.40 C261.61,480.36 263.15,478.88 264.68,477.40 L264.68,507.00 C263.15,506.35 261.61,505.71 260.07,505.00 C258.92,504.47 257.77,503.90 256.61,503.50 C254.92,502.91 253.23,502.69 251.54,501.90 C250.55,501.44 249.55,500.78 248.55,500.00 C247.78,499.40 247.01,498.73 246.24,497.90 C244.86,496.40 243.48,494.35 242.09,491.80 C240.48,488.82 238.87,485.14 237.25,482.40 C235.64,479.66 234.03,477.85 232.41,474.50 C231.65,472.90 230.88,470.96 230.11,468.70 C229.26,466.22 228.42,463.36 227.57,460.50 C226.58,457.12 225.58,453.72 224.58,450.00 C223.27,445.14 221.97,439.73 220.66,436.70 C219.97,435.10 219.28,434.16 218.59,433.30 C217.82,432.35 217.05,431.50 216.28,430.70 C215.44,429.82 214.59,429.00 213.75,428.70 C212.82,428.37 211.90,428.64 210.98,429.20 C209.98,429.80 208.98,430.73 207.98,432.00 C207.06,433.17 206.14,434.63 205.22,436.20 C204.30,437.77 203.37,439.45 202.45,441.50 C201.53,443.55 200.61,445.96 199.69,449.20 C198.30,454.06 196.92,460.78 195.54,467.30 C194.77,470.92 194.00,474.49 193.23,478.20 C192.46,481.91 191.70,485.78 190.93,489.60 C190.16,493.42 189.39,497.21 188.62,501.40 C187.85,505.59 187.09,510.20 186.32,514.80 Z" fill="#999" fill-opacity="0.4"/>
<path d="M186.32,427.50 C187.78,425.35 189.24,423.20 190.70,420.90 C192.16,418.60 193.62,416.16 195.08,414.10 C196.46,412.15 197.84,410.55 199.23,408.80 C200.84,406.75 202.45,404.49 204.07,402.60 C205.37,401.07 206.68,399.78 207.98,398.40 C209.21,397.10 210.44,395.73 211.67,394.50 C212.75,393.43 213.82,392.47 214.90,392.00 C215.51,391.73 216.13,391.62 216.74,391.80 C217.51,392.02 218.28,392.69 219.05,393.40 C219.89,394.18 220.74,395.00 221.58,395.90 C222.20,396.56 222.81,397.25 223.43,398.00 C224.50,399.31 225.58,400.77 226.65,402.20 C227.73,403.63 228.80,405.03 229.88,406.10 C230.72,406.94 231.57,407.58 232.41,408.20 C234.34,409.62 236.26,410.97 238.18,412.30 C239.79,413.42 241.40,414.53 243.02,415.40 C244.86,416.39 246.70,417.07 248.55,417.50 C250.39,417.93 252.24,418.09 254.08,418.20 C255.77,418.30 257.46,418.34 259.15,418.20 C260.99,418.05 262.84,417.67 264.68,417.30 L264.68,428.90 C262.84,428.79 260.99,428.68 259.15,428.40 C257.46,428.14 255.77,427.74 254.08,427.20 C252.24,426.62 250.39,425.88 248.55,425.10 C246.70,424.32 244.86,423.51 243.02,422.40 C241.40,421.43 239.79,420.22 238.18,418.90 C236.26,417.32 234.34,415.57 232.41,414.20 C231.57,413.60 230.72,413.06 229.88,412.30 C228.80,411.33 227.73,409.98 226.65,408.80 C225.58,407.62 224.50,406.61 223.43,406.00 C222.81,405.65 222.20,405.43 221.58,405.10 C220.74,404.64 219.89,403.97 219.05,403.40 C218.28,402.88 217.51,402.44 216.74,402.20 C216.13,402.01 215.51,401.93 214.90,402.00 C213.82,402.12 212.75,402.65 211.67,403.50 C210.44,404.47 209.21,405.86 207.98,407.00 C206.68,408.21 205.37,409.15 204.07,410.40 C202.45,411.95 200.84,413.99 199.23,416.00 C197.84,417.72 196.46,419.42 195.08,421.50 C193.62,423.69 192.16,426.30 190.70,428.70 C189.24,431.10 187.78,433.30 186.32,435.50 Z" fill="#999" fill-opacity="0.4"/>
<path d="M186.32,500.80 C187.09,496.53 187.85,492.25 188.62,488.40 C189.39,484.55 190.16,481.12 190.93,477.60 C191.70,474.08 192.46,470.46 193.23,467.00 C194.00,463.54 194.77,460.23 195.54,456.80 C196.92,450.62 198.30,444.05 199.69,439.10 C200.61,435.80 201.53,433.22 202.45,431.00 C203.37,428.78 204.30,426.90 205.22,425.00 C206.14,423.10 207.06,421.16 207.98,419.60 C208.98,417.91 209.98,416.65 210.98,415.80 C211.90,415.02 212.82,414.58 213.75,414.60 C214.59,414.62 215.44,415.02 216.28,416.20 C217.05,417.27 217.82,418.97 218.59,420.50 C219.28,421.87 219.97,423.11 220.66,425.00 C221.97,428.58 223.27,434.52 224.58,439.40 C225.58,443.13 226.58,446.23 227.57,449.40 C228.42,452.08 229.26,454.81 230.11,457.00 C230.88,458.99 231.65,460.53 232.41,462.00 C234.03,465.09 235.64,467.88 237.25,470.90 C238.87,473.92 240.48,477.15 242.09,480.10 C243.48,482.62 244.86,484.93 246.24,486.80 C247.01,487.84 247.78,488.74 248.55,489.50 C249.55,490.49 250.55,491.25 251.54,491.80 C253.23,492.73 254.92,493.05 256.61,493.20 C257.77,493.30 258.92,493.32 260.07,493.20 C261.61,493.04 263.15,492.62 264.68,492.20" fill="none" stroke="#3C5488" stroke-width="1.9" stroke-linejoin="round" stroke-linecap="butt"/>
<path d="M186.32,431.50 C187.78,429.33 189.24,427.15 190.70,424.80 C192.16,422.45 193.62,419.92 195.08,417.80 C196.46,415.79 197.84,414.14 199.23,412.40 C200.84,410.37 202.45,408.22 204.07,406.50 C205.37,405.11 206.68,404.00 207.98,402.70 C209.21,401.48 210.44,400.10 211.67,399.00 C212.75,398.04 213.82,397.29 214.90,397.00 C215.51,396.83 216.13,396.81 216.74,397.00 C217.51,397.23 218.28,397.79 219.05,398.40 C219.89,399.07 220.74,399.82 221.58,400.50 C222.20,400.99 222.81,401.45 223.43,402.00 C224.50,402.96 225.58,404.20 226.65,405.50 C227.73,406.80 228.80,408.18 229.88,409.20 C230.72,410.00 231.57,410.59 232.41,411.20 C234.34,412.60 236.26,414.14 238.18,415.60 C239.79,416.82 241.40,417.98 243.02,418.90 C244.86,419.95 246.70,420.70 248.55,421.30 C250.39,421.90 252.24,422.35 254.08,422.70 C255.77,423.02 257.46,423.24 259.15,423.30 C260.99,423.36 262.84,423.23 264.68,423.10" fill="none" stroke="#E64B35" stroke-width="1.9" stroke-linejoin="round" stroke-linecap="butt"/>
</g>
<rect x="182.4" y="385.4" width="86.2" height="134.7" fill="none" stroke="#666" stroke-width="1"/>
<g stroke="#333" stroke-width="0.9">
<line x1="186.32" x2="186.32" y1="520.1" y2="522.7"/>
<line x1="190.93" x2="190.93" y1="520.1" y2="522.7"/>
<line x1="200.15" x2="200.15" y1="520.1" y2="522.7"/>
<line x1="216.28" x2="216.28" y1="520.1" y2="522.7"/>
<line x1="232.41" x2="232.41" y1="520.1" y2="522.7"/>
<line x1="248.55" x2="248.55" y1="520.1" y2="522.7"/>
<line x1="264.68" x2="264.68" y1="520.1" y2="522.7"/>
<line x1="179.8" x2="182.4" y1="409.25" y2="409.25"/>
<line x1="179.8" x2="182.4" y1="439.90" y2="439.90"/>
<line x1="179.8" x2="182.4" y1="470.30" y2="470.30"/>
<line x1="179.8" x2="182.4" y1="500.80" y2="500.80"/>
<line x1="268.6" x2="271.2" y1="409.25" y2="409.25"/>
<line x1="268.6" x2="271.2" y1="439.90" y2="439.90"/>
<line x1="268.6" x2="271.2" y1="470.30" y2="470.30"/>
<line x1="268.6" x2="271.2" y1="500.80" y2="500.80"/>
</g>
<g font-size="7.8" font-family="Liberation Sans, sans-serif">
<text x="178.8" y="412.00" text-anchor="end" fill="#3C5488">75</text>
<text x="178.8" y="442.65" text-anchor="end" fill="#3C5488">50</text>
<text x="178.8" y="473.05" text-anchor="end" fill="#3C5488">25</text>
<text x="178.8" y="503.55" text-anchor="end" fill="#3C5488">0</text>
<text x="272.8" y="412.00" fill="#E64B35">7.5</text>
<text x="272.8" y="442.65" fill="#E64B35">5.0</text>
<text x="272.8" y="473.05" fill="#E64B35">2.5</text>
<text x="272.8" y="503.55" fill="#E64B35">0.0</text>
<text x="186.32" y="529.3" text-anchor="middle" fill="#4D4D4D">1</text>
<text x="190.93" y="529.3" text-anchor="middle" fill="#4D4D4D">3</text>
<text x="200.15" y="529.3" text-anchor="middle" fill="#4D4D4D">7</text>
<text x="216.28" y="529.3" text-anchor="middle" fill="#4D4D4D">14</text>
<text x="232.41" y="529.3" text-anchor="middle" fill="#4D4D4D">21</text>
<text x="248.55" y="529.3" text-anchor="middle" fill="#4D4D4D">28</text>
<text x="264.68" y="529.3" text-anchor="middle" fill="#4D4D4D">35</text>
</g>
<text x="226.20" y="376.5" text-anchor="middle" font-size="9.7" font-family="Liberation Sans, sans-serif" fill="#000" stroke="#000" stroke-width="0.15">Mortierellomycota</text>
<g stroke="#EBEBEB" stroke-width="0.9">
<line x1="313.45" x2="313.45" y1="385.4" y2="520.1"/>
<line x1="318.34" x2="318.34" y1="385.4" y2="520.1"/>
<line x1="328.12" x2="328.12" y1="385.4" y2="520.1"/>
<line x1="345.22" x2="345.22" y1="385.4" y2="520.1"/>
<line x1="362.33" x2="362.33" y1="385.4" y2="520.1"/>
<line x1="379.44" x2="379.44" y1="385.4" y2="520.1"/>
<line x1="396.55" x2="396.55" y1="385.4" y2="520.1"/>
<line x1="309.3" x2="400.7" y1="398.00" y2="398.00"/>
<line x1="309.3" x2="400.7" y1="435.50" y2="435.50"/>
<line x1="309.3" x2="400.7" y1="472.80" y2="472.80"/>
<line x1="309.3" x2="400.7" y1="510.30" y2="510.30"/>
</g>
<clipPath id="cB12"><rect x="309.3" y="385.4" width="91.4" height="134.7"/></clipPath>
<g clip-path="url(#cB12)">
<path d="M313.45,481.90 C315.08,483.77 316.71,485.65 318.34,487.40 C321.60,490.90 324.86,493.92 328.12,496.50 C330.97,498.76 333.82,500.68 336.67,502.40 C339.52,504.12 342.37,505.62 345.22,506.60 C348.08,507.58 350.93,508.02 353.78,508.10 C356.63,508.18 359.48,507.89 362.33,507.80 C365.18,507.71 368.03,507.81 370.89,507.80 C373.74,507.79 376.59,507.68 379.44,507.60 C382.29,507.52 385.14,507.46 387.99,507.20 C390.84,506.94 393.69,506.47 396.55,506.00 L396.55,512.00 C393.69,512.05 390.84,512.10 387.99,512.20 C385.14,512.30 382.29,512.47 379.44,512.60 C376.59,512.73 373.74,512.84 370.89,512.80 C368.03,512.76 365.18,512.56 362.33,512.80 C359.48,513.04 356.63,513.71 353.78,514.10 C350.93,514.49 348.08,514.58 345.22,513.60 C342.37,512.62 339.52,510.55 336.67,508.40 C333.82,506.25 330.97,504.00 328.12,501.50 C324.86,498.64 321.60,495.45 318.34,492.40 C316.71,490.88 315.08,489.39 313.45,487.90 Z" fill="#999" fill-opacity="0.4"/>
<path d="M313.45,391.70 C315.08,391.62 316.71,391.54 318.34,391.50 C321.60,391.42 324.86,391.52 328.12,391.90 C330.97,392.23 333.82,392.78 336.67,393.80 C339.52,394.82 342.37,396.33 345.22,397.70 C348.08,399.07 350.93,400.31 353.78,401.70 C356.63,403.09 359.48,404.63 362.33,405.50 C365.18,406.37 368.03,406.57 370.89,406.80 C373.74,407.03 376.59,407.29 379.44,407.40 C382.29,407.51 385.14,407.47 387.99,407.30 C390.84,407.13 393.69,406.81 396.55,406.50 L396.55,414.90 C393.69,414.75 390.84,414.60 387.99,414.50 C385.14,414.40 382.29,414.34 379.44,414.20 C376.59,414.06 373.74,413.83 370.89,413.60 C368.03,413.37 365.18,413.13 362.33,412.30 C359.48,411.47 356.63,410.04 353.78,408.70 C350.93,407.36 348.08,406.13 345.22,404.70 C342.37,403.27 339.52,401.66 336.67,400.60 C333.82,399.54 330.97,399.02 328.12,398.70 C324.86,398.33 321.60,398.23 318.34,398.70 C316.71,398.94 315.08,399.32 313.45,399.70 Z" fill="#999" fill-opacity="0.4"/>
<path d="M313.45,484.90 C315.08,486.58 316.71,488.26 318.34,489.90 C321.60,493.18 324.86,496.28 328.12,499.00 C330.97,501.38 333.82,503.46 336.67,505.40 C339.52,507.34 342.37,509.12 345.22,510.10 C348.08,511.08 350.93,511.25 353.78,511.10 C356.63,510.95 359.48,510.47 362.33,510.30 C365.18,510.13 368.03,510.28 370.89,510.30 C373.74,510.32 376.59,510.21 379.44,510.10 C382.29,509.99 385.14,509.88 387.99,509.70 C390.84,509.52 393.69,509.26 396.55,509.00" fill="none" stroke="#3C5488" stroke-width="1.9" stroke-linejoin="round" stroke-linecap="butt"/>
<path d="M313.45,395.70 C315.08,395.47 316.71,395.24 318.34,395.10 C321.60,394.83 324.86,394.93 328.12,395.30 C330.97,395.63 333.82,396.16 336.67,397.20 C339.52,398.24 342.37,399.80 345.22,401.20 C348.08,402.60 350.93,403.84 353.78,405.20 C356.63,406.56 359.48,408.05 362.33,408.90 C365.18,409.75 368.03,409.97 370.89,410.20 C373.74,410.43 376.59,410.67 379.44,410.80 C382.29,410.93 385.14,410.94 387.99,410.90 C390.84,410.86 393.69,410.78 396.55,410.70" fill="none" stroke="#E64B35" stroke-width="1.9" stroke-linejoin="round" stroke-linecap="butt"/>
</g>
<rect x="309.3" y="385.4" width="91.4" height="134.7" fill="none" stroke="#666" stroke-width="1"/>
<g stroke="#333" stroke-width="0.9">
<line x1="313.45" x2="313.45" y1="520.1" y2="522.7"/>
<line x1="318.34" x2="318.34" y1="520.1" y2="522.7"/>
<line x1="328.12" x2="328.12" y1="520.1" y2="522.7"/>
<line x1="345.22" x2="345.22" y1="520.1" y2="522.7"/>
<line x1="362.33" x2="362.33" y1="520.1" y2="522.7"/>
<line x1="379.44" x2="379.44" y1="520.1" y2="522.7"/>
<line x1="396.55" x2="396.55" y1="520.1" y2="522.7"/>
<line x1="306.7" x2="309.3" y1="398.00" y2="398.00"/>
<line x1="306.7" x2="309.3" y1="435.50" y2="435.50"/>
<line x1="306.7" x2="309.3" y1="472.80" y2="472.80"/>
<line x1="306.7" x2="309.3" y1="510.30" y2="510.30"/>
<line x1="400.7" x2="403.3" y1="398.00" y2="398.00"/>
<line x1="400.7" x2="403.3" y1="435.50" y2="435.50"/>
<line x1="400.7" x2="403.3" y1="472.80" y2="472.80"/>
<line x1="400.7" x2="403.3" y1="510.30" y2="510.30"/>
</g>
<g font-size="7.8" font-family="Liberation Sans, sans-serif">
<text x="305.7" y="400.75" text-anchor="end" fill="#3C5488">60</text>
<text x="305.7" y="438.25" text-anchor="end" fill="#3C5488">40</text>
<text x="305.7" y="475.55" text-anchor="end" fill="#3C5488">20</text>
<text x="305.7" y="513.05" text-anchor="end" fill="#3C5488">0</text>
<text x="404.9" y="400.75" fill="#E64B35">6</text>
<text x="404.9" y="438.25" fill="#E64B35">4</text>
<text x="404.9" y="475.55" fill="#E64B35">2</text>
<text x="404.9" y="513.05" fill="#E64B35">0</text>
<text x="313.45" y="529.3" text-anchor="middle" fill="#4D4D4D">1</text>
<text x="318.34" y="529.3" text-anchor="middle" fill="#4D4D4D">3</text>
<text x="328.12" y="529.3" text-anchor="middle" fill="#4D4D4D">7</text>
<text x="345.22" y="529.3" text-anchor="middle" fill="#4D4D4D">14</text>
<text x="362.33" y="529.3" text-anchor="middle" fill="#4D4D4D">21</text>
<text x="379.44" y="529.3" text-anchor="middle" fill="#4D4D4D">28</text>
<text x="396.55" y="529.3" text-anchor="middle" fill="#4D4D4D">35</text>
</g>
<text x="354.65" y="376.5" text-anchor="middle" font-size="9.7" font-family="Liberation Sans, sans-serif" fill="#000" stroke="#000" stroke-width="0.15">Basidiomycota</text>
<g stroke="#EBEBEB" stroke-width="0.9">
<line x1="441.61" x2="441.61" y1="385.4" y2="520.1"/>
<line x1="446.57" x2="446.57" y1="385.4" y2="520.1"/>
<line x1="456.49" x2="456.49" y1="385.4" y2="520.1"/>
<line x1="473.84" x2="473.84" y1="385.4" y2="520.1"/>
<line x1="491.19" x2="491.19" y1="385.4" y2="520.1"/>
<line x1="508.54" x2="508.54" y1="385.4" y2="520.1"/>
<line x1="525.89" x2="525.89" y1="385.4" y2="520.1"/>
<line x1="437.4" x2="530.1" y1="386.70" y2="386.70"/>
<line x1="437.4" x2="530.1" y1="415.10" y2="415.10"/>
<line x1="437.4" x2="530.1" y1="443.50" y2="443.50"/>
<line x1="437.4" x2="530.1" y1="471.75" y2="471.75"/>
<line x1="437.4" x2="530.1" y1="500.20" y2="500.20"/>
</g>
<clipPath id="cB13"><rect x="437.4" y="385.4" width="92.7" height="134.7"/></clipPath>
<g clip-path="url(#cB13)">
<path d="M441.61,489.40 C443.27,489.73 444.92,490.06 446.57,489.80 C449.88,489.28 453.18,486.40 456.49,484.20 C459.42,482.25 462.35,480.85 465.28,479.40 C468.13,477.99 470.99,476.55 473.84,476.10 C476.07,475.75 478.30,476.00 480.53,476.10 C482.84,476.20 485.15,476.13 487.47,476.10 C488.87,476.08 490.28,476.08 491.68,476.20 C494.90,476.48 498.13,477.41 501.35,478.80 C503.74,479.83 506.14,481.12 508.54,482.30 C512.09,484.06 515.64,485.60 519.19,486.20 C521.42,486.58 523.66,486.59 525.89,486.60 L525.89,514.00 C523.66,511.65 521.42,509.29 519.19,507.50 C515.64,504.64 512.09,503.21 508.54,501.50 C506.14,500.35 503.74,499.08 501.35,498.30 C498.13,497.26 494.90,497.11 491.68,496.80 C490.28,496.67 488.87,496.50 487.47,496.50 C485.15,496.50 482.84,496.96 480.53,497.90 C478.30,498.81 476.07,500.18 473.84,501.10 C470.99,502.28 468.13,502.73 465.28,503.10 C462.35,503.48 459.42,503.79 456.49,504.00 C453.18,504.24 449.88,504.37 446.57,506.80 C444.92,508.02 443.27,509.81 441.61,511.60 Z" fill="#999" fill-opacity="0.4"/>
<path d="M441.61,432.30 C443.27,429.55 444.92,426.80 446.57,424.20 C449.88,418.99 453.18,414.37 456.49,409.80 C459.29,405.92 462.10,402.08 464.91,398.50 C467.80,394.81 470.70,391.40 473.59,390.60 C475.74,390.01 477.88,390.86 480.03,394.20 C480.69,395.23 481.35,396.49 482.01,397.50 C483.67,400.03 485.32,401.00 486.97,402.20 C487.80,402.80 488.62,403.46 489.45,404.00 C492.67,406.10 495.90,406.34 499.12,407.50 C502.17,408.60 505.23,410.52 508.29,412.10 C511.35,413.68 514.40,414.93 517.46,415.70 C520.27,416.40 523.08,416.70 525.89,417.00 L525.89,438.00 C523.08,435.23 520.27,432.46 517.46,430.70 C514.40,428.78 511.35,428.06 508.29,426.70 C505.23,425.34 502.17,423.34 499.12,422.10 C495.90,420.79 492.67,420.33 489.45,418.60 C488.62,418.16 487.80,417.63 486.97,416.80 C485.32,415.14 483.67,412.27 482.01,411.50 C481.35,411.19 480.69,411.22 480.03,411.20 C477.88,411.14 475.74,410.58 473.59,410.60 C470.70,410.63 467.80,411.73 464.91,414.50 C462.10,417.19 459.29,421.47 456.49,424.80 C453.18,428.71 449.88,431.30 446.57,438.20 C444.92,441.65 443.27,446.17 441.61,450.70 Z" fill="#999" fill-opacity="0.4"/>
<path d="M441.61,499.90 C443.27,499.08 444.92,498.26 446.57,497.50 C449.88,495.98 453.18,494.71 456.49,493.50 C459.42,492.43 462.35,491.40 465.28,490.60 C468.13,489.83 470.99,489.27 473.84,488.60 C476.07,488.08 478.30,487.49 480.53,487.00 C482.84,486.50 485.15,486.10 487.47,486.00 C488.87,485.94 490.28,485.98 491.68,486.10 C494.90,486.37 498.13,487.02 501.35,488.20 C503.74,489.08 506.14,490.25 508.54,491.30 C512.09,492.86 515.64,494.16 519.19,496.00 C521.42,497.16 523.66,498.53 525.89,499.90" fill="none" stroke="#3C5488" stroke-width="1.9" stroke-linejoin="round" stroke-linecap="butt"/>
<path d="M441.61,441.50 C443.27,437.86 444.92,434.23 446.57,431.20 C449.88,425.15 453.18,421.54 456.49,417.30 C459.29,413.70 462.10,409.64 464.91,406.50 C467.80,403.27 470.70,401.01 473.59,400.60 C475.74,400.29 477.88,401.00 480.03,402.70 C480.69,403.22 481.35,403.84 482.01,404.50 C483.67,406.15 485.32,408.07 486.97,409.50 C487.80,410.22 488.62,410.81 489.45,411.30 C492.67,413.21 495.90,413.57 499.12,414.80 C502.17,415.97 505.23,417.93 508.29,419.40 C511.35,420.87 514.40,421.86 517.46,423.20 C520.27,424.43 523.08,425.97 525.89,427.50" fill="none" stroke="#E64B35" stroke-width="1.9" stroke-linejoin="round" stroke-linecap="butt"/>
</g>
<rect x="437.4" y="385.4" width="92.7" height="134.7" fill="none" stroke="#666" stroke-width="1"/>
<g stroke="#333" stroke-width="0.9">
<line x1="441.61" x2="441.61" y1="520.1" y2="522.7"/>
<line x1="446.57" x2="446.57" y1="520.1" y2="522.7"/>
<line x1="456.49" x2="456.49" y1="520.1" y2="522.7"/>
<line x1="473.84" x2="473.84" y1="520.1" y2="522.7"/>
<line x1="491.19" x2="491.19" y1="520.1" y2="522.7"/>
<line x1="508.54" x2="508.54" y1="520.1" y2="522.7"/>
<line x1="525.89" x2="525.89" y1="520.1" y2="522.7"/>
<line x1="434.8" x2="437.4" y1="386.70" y2="386.70"/>
<line x1="434.8" x2="437.4" y1="415.10" y2="415.10"/>
<line x1="434.8" x2="437.4" y1="443.50" y2="443.50"/>
<line x1="434.8" x2="437.4" y1="471.75" y2="471.75"/>
<line x1="434.8" x2="437.4" y1="500.20" y2="500.20"/>
<line x1="530.1" x2="532.7" y1="386.70" y2="386.70"/>
<line x1="530.1" x2="532.7" y1="415.10" y2="415.10"/>
<line x1="530.1" x2="532.7" y1="443.50" y2="443.50"/>
<line x1="530.1" x2="532.7" y1="471.75" y2="471.75"/>
<line x1="530.1" x2="532.7" y1="500.20" y2="500.20"/>
</g>
<g font-size="7.8" font-family="Liberation Sans, sans-serif">
<text x="433.8" y="389.45" text-anchor="end" fill="#3C5488">80</text>
<text x="433.8" y="417.85" text-anchor="end" fill="#3C5488">60</text>
<text x="433.8" y="446.25" text-anchor="end" fill="#3C5488">40</text>
<text x="433.8" y="474.50" text-anchor="end" fill="#3C5488">20</text>
<text x="433.8" y="502.95" text-anchor="end" fill="#3C5488">0</text>
<text x="534.3" y="389.45" fill="#E64B35">8</text>
<text x="534.3" y="417.85" fill="#E64B35">6</text>
<text x="534.3" y="446.25" fill="#E64B35">4</text>
<text x="534.3" y="474.50" fill="#E64B35">2</text>
<text x="534.3" y="502.95" fill="#E64B35">0</text>
<text x="441.61" y="529.3" text-anchor="middle" fill="#4D4D4D">1</text>
<text x="446.57" y="529.3" text-anchor="middle" fill="#4D4D4D">3</text>
<text x="456.49" y="529.3" text-anchor="middle" fill="#4D4D4D">7</text>
<text x="473.84" y="529.3" text-anchor="middle" fill="#4D4D4D">14</text>
<text x="491.19" y="529.3" text-anchor="middle" fill="#4D4D4D">21</text>
<text x="508.54" y="529.3" text-anchor="middle" fill="#4D4D4D">28</text>
<text x="525.89" y="529.3" text-anchor="middle" fill="#4D4D4D">35</text>
</g>
<text x="481.80" y="376.5" text-anchor="middle" font-size="9.7" font-family="Liberation Sans, sans-serif" fill="#000" stroke="#000" stroke-width="0.15">Mucoromycota</text>
<g stroke="#EBEBEB" stroke-width="0.9">
<line x1="569.21" x2="569.21" y1="385.4" y2="520.1"/>
<line x1="574.16" x2="574.16" y1="385.4" y2="520.1"/>
<line x1="584.06" x2="584.06" y1="385.4" y2="520.1"/>
<line x1="601.40" x2="601.40" y1="385.4" y2="520.1"/>
<line x1="618.73" x2="618.73" y1="385.4" y2="520.1"/>
<line x1="636.06" x2="636.06" y1="385.4" y2="520.1"/>
<line x1="653.39" x2="653.39" y1="385.4" y2="520.1"/>
<line x1="565.0" x2="657.6" y1="395.10" y2="395.10"/>
<line x1="565.0" x2="657.6" y1="434.50" y2="434.50"/>
<line x1="565.0" x2="657.6" y1="474.20" y2="474.20"/>
<line x1="565.0" x2="657.6" y1="513.70" y2="513.70"/>
</g>
<clipPath id="cB14"><rect x="565.0" y="385.4" width="92.6" height="134.7"/></clipPath>
<g clip-path="url(#cB14)">
<path d="M569.21,509.50 C570.86,509.63 572.51,509.76 574.16,509.90 C577.46,510.19 580.76,510.53 584.06,510.90 C586.95,511.22 589.84,511.56 592.73,511.90 C595.62,512.24 598.51,512.58 601.40,512.70 C604.28,512.82 607.17,512.73 610.06,512.70 C612.95,512.67 615.84,512.69 618.73,512.70 C621.62,512.71 624.50,512.70 627.39,512.70 C630.28,512.70 633.17,512.70 636.06,512.70 C638.95,512.70 641.84,512.70 644.73,512.70 C647.61,512.70 650.50,512.70 653.39,512.70 L653.39,515.10 C650.50,515.10 647.61,515.10 644.73,515.10 C641.84,515.10 638.95,515.10 636.06,515.10 C633.17,515.10 630.28,515.10 627.39,515.10 C624.50,515.10 621.62,515.11 618.73,515.10 C615.84,515.09 612.95,515.07 610.06,515.10 C607.17,515.13 604.28,515.22 601.40,515.10 C598.51,514.98 595.62,514.64 592.73,514.30 C589.84,513.96 586.95,513.62 584.06,513.30 C580.76,512.93 577.46,512.59 574.16,512.30 C572.51,512.16 570.86,512.03 569.21,511.90 Z" fill="#999" fill-opacity="0.4"/>
<path d="M569.21,392.10 C570.86,394.16 572.51,396.23 574.16,397.20 C577.46,399.14 580.76,396.71 584.06,397.20 C586.95,397.63 589.84,400.30 592.73,404.00 C595.62,407.70 598.51,412.42 601.40,417.50 C604.28,422.58 607.17,428.02 610.06,432.00 C612.95,435.98 615.84,438.49 618.73,440.00 C621.62,441.51 624.50,442.02 627.39,442.30 C630.28,442.58 633.17,442.64 636.06,443.50 C638.95,444.36 641.84,446.03 644.73,445.50 C647.61,444.97 650.50,442.23 653.39,439.50 L653.39,483.80 C650.50,480.57 647.61,477.34 644.73,475.80 C641.84,474.26 638.95,474.40 636.06,474.40 C633.17,474.40 630.28,474.25 627.39,474.00 C624.50,473.75 621.62,473.40 618.73,472.00 C615.84,470.60 612.95,468.16 610.06,465.50 C607.17,462.84 604.28,459.95 601.40,455.50 C598.51,451.05 595.62,445.05 592.73,439.80 C589.84,434.55 586.95,430.07 584.06,426.40 C580.76,422.21 577.46,419.08 574.16,422.00 C572.51,423.46 570.86,426.43 569.21,429.40 Z" fill="#999" fill-opacity="0.4"/>
<path d="M569.21,510.70 C570.86,510.83 572.51,510.96 574.16,511.10 C577.46,511.39 580.76,511.73 584.06,512.10 C586.95,512.42 589.84,512.76 592.73,513.10 C595.62,513.44 598.51,513.78 601.40,513.90 C604.28,514.02 607.17,513.93 610.06,513.90 C612.95,513.87 615.84,513.89 618.73,513.90 C621.62,513.91 624.50,513.90 627.39,513.90 C630.28,513.90 633.17,513.90 636.06,513.90 C638.95,513.90 641.84,513.90 644.73,513.90 C647.61,513.90 650.50,513.90 653.39,513.90" fill="none" stroke="#3C5488" stroke-width="1.9" stroke-linejoin="round" stroke-linecap="butt"/>
<path d="M569.21,410.70 C570.86,410.20 572.51,409.70 574.16,409.60 C577.46,409.39 580.76,410.75 584.06,413.30 C586.95,415.53 589.84,418.67 592.73,422.30 C595.62,425.93 598.51,430.05 601.40,434.50 C604.28,438.95 607.17,443.73 610.06,447.50 C612.95,451.27 615.84,454.04 618.73,455.70 C621.62,457.36 624.50,457.91 627.39,458.40 C630.28,458.89 633.17,459.33 636.06,459.70 C638.95,460.07 641.84,460.38 644.73,460.70 C647.61,461.02 650.50,461.36 653.39,461.70" fill="none" stroke="#E64B35" stroke-width="1.9" stroke-linejoin="round" stroke-linecap="butt"/>
</g>
<rect x="565.0" y="385.4" width="92.6" height="134.7" fill="none" stroke="#666" stroke-width="1"/>
<g stroke="#333" stroke-width="0.9">
<line x1="569.21" x2="569.21" y1="520.1" y2="522.7"/>
<line x1="574.16" x2="574.16" y1="520.1" y2="522.7"/>
<line x1="584.06" x2="584.06" y1="520.1" y2="522.7"/>
<line x1="601.40" x2="601.40" y1="520.1" y2="522.7"/>
<line x1="618.73" x2="618.73" y1="520.1" y2="522.7"/>
<line x1="636.06" x2="636.06" y1="520.1" y2="522.7"/>
<line x1="653.39" x2="653.39" y1="520.1" y2="522.7"/>
<line x1="562.4" x2="565.0" y1="395.10" y2="395.10"/>
<line x1="562.4" x2="565.0" y1="434.50" y2="434.50"/>
<line x1="562.4" x2="565.0" y1="474.20" y2="474.20"/>
<line x1="562.4" x2="565.0" y1="513.70" y2="513.70"/>
<line x1="657.6" x2="660.2" y1="395.10" y2="395.10"/>
<line x1="657.6" x2="660.2" y1="434.50" y2="434.50"/>
<line x1="657.6" x2="660.2" y1="474.20" y2="474.20"/>
<line x1="657.6" x2="660.2" y1="513.70" y2="513.70"/>
</g>
<g font-size="7.8" font-family="Liberation Sans, sans-serif">
<text x="561.4" y="397.85" text-anchor="end" fill="#3C5488">60</text>
<text x="561.4" y="437.25" text-anchor="end" fill="#3C5488">40</text>
<text x="561.4" y="476.95" text-anchor="end" fill="#3C5488">20</text>
<text x="561.4" y="516.45" text-anchor="end" fill="#3C5488">0</text>
<text x="661.8" y="397.85" fill="#E64B35">6</text>
<text x="661.8" y="437.25" fill="#E64B35">4</text>
<text x="661.8" y="476.95" fill="#E64B35">2</text>
<text x="661.8" y="516.45" fill="#E64B35">0</text>
<text x="569.21" y="529.3" text-anchor="middle" fill="#4D4D4D">1</text>
<text x="574.16" y="529.3" text-anchor="middle" fill="#4D4D4D">3</text>
<text x="584.06" y="529.3" text-anchor="middle" fill="#4D4D4D">7</text>
<text x="601.40" y="529.3" text-anchor="middle" fill="#4D4D4D">14</text>
<text x="618.73" y="529.3" text-anchor="middle" fill="#4D4D4D">21</text>
<text x="636.06" y="529.3" text-anchor="middle" fill="#4D4D4D">28</text>
<text x="653.39" y="529.3" text-anchor="middle" fill="#4D4D4D">35</text>
</g>
<text x="611.60" y="376.5" text-anchor="middle" font-size="9.7" font-family="Liberation Sans, sans-serif" fill="#000" stroke="#000" stroke-width="0.15">Chytridiomycota</text>
<text transform="translate(675.5,451.5) rotate(90)" text-anchor="middle" font-size="8.75" font-family="Liberation Sans, sans-serif" fill="#E64B35">Log10 (copies per gram)</text>
<g stroke="#EBEBEB" stroke-width="0.9">
<line x1="61.51" x2="61.51" y1="545.7" y2="680.4"/>
<line x1="66.35" x2="66.35" y1="545.7" y2="680.4"/>
<line x1="76.03" x2="76.03" y1="545.7" y2="680.4"/>
<line x1="92.97" x2="92.97" y1="545.7" y2="680.4"/>
<line x1="109.91" x2="109.91" y1="545.7" y2="680.4"/>
<line x1="126.85" x2="126.85" y1="545.7" y2="680.4"/>
<line x1="143.79" x2="143.79" y1="545.7" y2="680.4"/>
<line x1="57.4" x2="147.9" y1="559.20" y2="559.20"/>
<line x1="57.4" x2="147.9" y1="591.40" y2="591.40"/>
<line x1="57.4" x2="147.9" y1="623.50" y2="623.50"/>
<line x1="57.4" x2="147.9" y1="655.50" y2="655.50"/>
</g>
<clipPath id="cB20"><rect x="57.4" y="545.7" width="90.5" height="134.7"/></clipPath>
<g clip-path="url(#cB20)">
<path d="M61.51,592.62 C62.32,595.16 63.13,597.70 63.93,600.11 C64.74,602.52 65.55,604.79 66.35,606.97 C67.16,609.14 67.97,611.22 68.77,613.17 C69.58,615.13 70.39,616.96 71.19,618.68 C72.00,620.39 72.81,621.99 73.61,623.46 C74.42,624.92 75.23,626.26 76.03,627.47 C76.84,628.68 77.65,629.75 78.45,630.69 C79.26,631.62 80.07,632.42 80.87,633.07 C81.68,633.72 82.49,634.23 83.29,634.58 C84.10,634.94 84.90,635.15 85.71,635.20 C86.52,635.24 87.32,635.14 88.13,634.86 C88.94,634.59 89.74,634.15 90.55,633.54 C91.36,632.92 92.16,632.13 92.97,631.16 C93.78,630.19 94.58,629.04 95.39,627.70 C96.20,626.35 97.00,624.81 97.81,623.12 C98.62,621.44 99.42,619.60 100.23,617.66 C101.04,615.73 101.84,613.70 102.65,611.61 C103.46,609.53 104.26,607.39 105.07,605.23 C105.88,603.07 106.68,600.89 107.49,598.73 C108.30,596.56 109.10,594.41 109.91,592.30 C110.72,590.19 111.52,588.12 112.33,586.13 C113.14,584.14 113.94,582.23 114.75,580.43 C115.56,578.63 116.36,576.93 117.17,575.39 C117.98,573.84 118.78,572.44 119.59,571.19 C120.40,569.94 121.20,568.84 122.01,567.86 C122.81,566.88 123.62,566.02 124.43,565.26 C125.23,564.49 126.04,563.83 126.85,563.23 C127.65,562.63 128.46,562.10 129.27,561.62 C130.07,561.14 130.88,560.71 131.69,560.29 C132.49,559.88 133.30,559.49 134.11,559.09 C134.91,558.69 135.72,558.29 136.53,557.86 C137.33,557.42 138.14,556.96 138.95,556.45 C139.75,555.93 140.56,555.37 141.37,554.71 C142.17,554.04 142.98,553.27 143.79,552.49 L143.79,595.12 C142.98,594.31 142.17,593.51 141.37,592.85 C140.56,592.20 139.75,591.70 138.95,591.31 C138.14,590.93 137.33,590.64 136.53,590.48 C135.72,590.32 134.91,590.27 134.11,590.33 C133.30,590.39 132.49,590.57 131.69,590.85 C130.88,591.13 130.07,591.52 129.27,592.02 C128.46,592.51 127.65,593.11 126.85,593.81 C126.04,594.51 125.23,595.32 124.43,596.22 C123.62,597.12 122.81,598.12 122.01,599.22 C121.20,600.32 120.40,601.51 119.59,602.79 C118.78,604.08 117.98,605.45 117.17,606.92 C116.36,608.39 115.56,609.94 114.75,611.59 C113.94,613.24 113.14,614.98 112.33,616.81 C111.52,618.64 110.72,620.55 109.91,622.56 C109.10,624.57 108.30,626.67 107.49,628.86 C106.68,631.05 105.88,633.33 105.07,635.70 C104.26,638.06 103.46,640.52 102.65,643.07 C101.84,645.62 101.04,648.27 100.23,650.90 C99.42,653.52 98.62,656.12 97.81,658.52 C97.00,660.93 96.20,663.14 95.39,665.02 C94.58,666.90 93.78,668.45 92.97,669.71 C92.16,670.97 91.36,671.94 90.55,672.66 C89.74,673.37 88.94,673.83 88.13,674.06 C87.32,674.30 86.52,674.31 85.71,674.13 C84.90,673.95 84.10,673.58 83.29,673.04 C82.49,672.51 81.68,671.82 80.87,670.99 C80.07,670.17 79.26,669.21 78.45,668.14 C77.65,667.08 76.84,665.91 76.03,664.66 C75.23,663.42 74.42,662.09 73.61,660.72 C72.81,659.34 72.00,657.92 71.19,656.47 C70.39,655.03 69.58,653.57 68.77,652.03 C67.97,650.50 67.16,648.88 66.35,647.13 C65.55,645.39 64.74,643.52 63.93,641.38 C63.13,639.23 62.32,636.80 61.51,634.38 Z" fill="#999" fill-opacity="0.4"/>
<path d="M61.51,649.50 C63.61,647.38 65.71,645.26 67.81,643.40 C70.31,641.18 72.81,639.32 75.31,636.60 C77.40,634.32 79.50,631.43 81.60,628.80 C83.78,626.07 85.95,623.63 88.13,620.80 C89.58,618.92 91.04,616.86 92.49,615.70 C93.94,614.54 95.39,614.27 96.84,614.30 C98.62,614.34 100.39,614.82 102.17,615.50 C103.78,616.12 105.39,616.89 107.01,617.60 C107.97,618.02 108.94,618.42 109.91,618.70 C112.73,619.51 115.56,619.31 118.38,619.30 C121.20,619.29 124.02,619.48 126.85,619.50 C129.67,619.52 132.49,619.38 135.32,618.10 C138.14,616.82 140.96,614.41 143.79,612.00 L143.79,627.00 C140.96,627.31 138.14,627.61 135.32,628.10 C132.49,628.59 129.67,629.26 126.85,629.50 C124.02,629.74 121.20,629.55 118.38,629.30 C115.56,629.05 112.73,628.74 109.91,628.70 C108.94,628.69 107.97,628.70 107.01,628.60 C105.39,628.43 103.78,627.92 102.17,627.50 C100.39,627.04 98.62,626.68 96.84,626.90 C95.39,627.08 93.94,627.66 92.49,628.30 C91.04,628.94 89.58,629.66 88.13,630.80 C85.95,632.51 83.78,635.19 81.60,637.80 C79.50,640.31 77.40,642.75 75.31,645.20 C72.81,648.12 70.31,651.03 67.81,654.40 C65.71,657.22 63.61,660.36 61.51,663.50 Z" fill="#999" fill-opacity="0.4"/>
<path d="M61.51,613.76 C62.32,616.03 63.13,618.31 63.93,620.49 C64.74,622.67 65.55,624.76 66.35,626.77 C67.16,628.77 67.97,630.70 68.77,632.54 C69.58,634.37 70.39,636.11 71.19,637.75 C72.00,639.39 72.81,640.93 73.61,642.35 C74.42,643.78 75.23,645.10 76.03,646.30 C76.84,647.50 77.65,648.58 78.45,649.53 C79.26,650.49 80.07,651.31 80.87,652.00 C81.68,652.70 82.49,653.25 83.29,653.66 C84.10,654.08 84.90,654.34 85.71,654.46 C86.52,654.57 87.32,654.53 88.13,654.30 C88.94,654.07 89.74,653.65 90.55,653.02 C91.36,652.39 92.16,651.55 92.97,650.47 C93.78,649.39 94.58,648.07 95.39,646.47 C96.20,644.88 97.00,643.01 97.81,640.97 C98.62,638.92 99.42,636.70 100.23,634.41 C101.04,632.12 101.84,629.76 102.65,627.43 C103.46,625.09 104.26,622.78 105.07,620.50 C105.88,618.22 106.68,615.98 107.49,613.78 C108.30,611.59 109.10,609.45 109.91,607.37 C110.72,605.30 111.52,603.29 112.33,601.37 C113.14,599.45 113.94,597.62 114.75,595.89 C115.56,594.16 116.36,592.53 117.17,591.02 C117.98,589.52 118.78,588.13 119.59,586.87 C120.40,585.62 121.20,584.48 122.01,583.46 C122.81,582.43 123.62,581.52 124.43,580.70 C125.23,579.89 126.04,579.17 126.85,578.54 C127.65,577.91 128.46,577.36 129.27,576.89 C130.07,576.42 130.88,576.02 131.69,575.68 C132.49,575.35 133.30,575.07 134.11,574.84 C134.91,574.62 135.72,574.44 136.53,574.30 C137.33,574.16 138.14,574.05 138.95,573.98 C139.75,573.90 140.56,573.84 141.37,573.80 C142.17,573.76 142.98,573.73 143.79,573.70" fill="none" stroke="#3C5488" stroke-width="1.9" stroke-linejoin="round" stroke-linecap="butt"/>
<path d="M61.51,656.50 C63.61,653.87 65.71,651.24 67.81,648.90 C70.31,646.11 72.81,643.72 75.31,640.90 C77.40,638.54 79.50,635.87 81.60,633.30 C83.78,630.63 85.95,628.07 88.13,625.80 C89.58,624.29 91.04,622.90 92.49,622.00 C93.94,621.10 95.39,620.68 96.84,620.60 C98.62,620.51 100.39,620.93 102.17,621.50 C103.78,622.02 105.39,622.66 107.01,623.10 C107.97,623.36 108.94,623.55 109.91,623.70 C112.73,624.13 115.56,624.18 118.38,624.30 C121.20,624.42 124.02,624.61 126.85,624.50 C129.67,624.39 132.49,623.98 135.32,623.10 C138.14,622.22 140.96,620.86 143.79,619.50" fill="none" stroke="#E64B35" stroke-width="1.9" stroke-linejoin="round" stroke-linecap="butt"/>
</g>
<rect x="57.4" y="545.7" width="90.5" height="134.7" fill="none" stroke="#666" stroke-width="1"/>
<g stroke="#333" stroke-width="0.9">
<line x1="61.51" x2="61.51" y1="680.4" y2="683.0"/>
<line x1="66.35" x2="66.35" y1="680.4" y2="683.0"/>
<line x1="76.03" x2="76.03" y1="680.4" y2="683.0"/>
<line x1="92.97" x2="92.97" y1="680.4" y2="683.0"/>
<line x1="109.91" x2="109.91" y1="680.4" y2="683.0"/>
<line x1="126.85" x2="126.85" y1="680.4" y2="683.0"/>
<line x1="143.79" x2="143.79" y1="680.4" y2="683.0"/>
<line x1="54.8" x2="57.4" y1="559.20" y2="559.20"/>
<line x1="54.8" x2="57.4" y1="591.40" y2="591.40"/>
<line x1="54.8" x2="57.4" y1="623.50" y2="623.50"/>
<line x1="54.8" x2="57.4" y1="655.50" y2="655.50"/>
<line x1="147.9" x2="150.5" y1="559.20" y2="559.20"/>
<line x1="147.9" x2="150.5" y1="591.40" y2="591.40"/>
<line x1="147.9" x2="150.5" y1="623.50" y2="623.50"/>
<line x1="147.9" x2="150.5" y1="655.50" y2="655.50"/>
</g>
<g font-size="7.8" font-family="Liberation Sans, sans-serif">
<text x="53.8" y="561.95" text-anchor="end" fill="#3C5488">100</text>
<text x="53.8" y="594.15" text-anchor="end" fill="#3C5488">80</text>
<text x="53.8" y="626.25" text-anchor="end" fill="#3C5488">60</text>
<text x="53.8" y="658.25" text-anchor="end" fill="#3C5488">40</text>
<text x="152.1" y="561.95" fill="#E64B35">10</text>
<text x="152.1" y="594.15" fill="#E64B35">8</text>
<text x="152.1" y="626.25" fill="#E64B35">6</text>
<text x="152.1" y="658.25" fill="#E64B35">4</text>
<text x="61.51" y="689.6" text-anchor="middle" fill="#4D4D4D">1</text>
<text x="66.35" y="689.6" text-anchor="middle" fill="#4D4D4D">3</text>
<text x="76.03" y="689.6" text-anchor="middle" fill="#4D4D4D">7</text>
<text x="92.97" y="689.6" text-anchor="middle" fill="#4D4D4D">14</text>
<text x="109.91" y="689.6" text-anchor="middle" fill="#4D4D4D">21</text>
<text x="126.85" y="689.6" text-anchor="middle" fill="#4D4D4D">28</text>
<text x="143.79" y="689.6" text-anchor="middle" fill="#4D4D4D">35</text>
</g>
<text transform="translate(40.0,611.6) rotate(-90)" text-anchor="middle" font-size="9" font-family="Liberation Sans, sans-serif" fill="#3C5488">Relative abundance (%)</text>
<g stroke="#EBEBEB" stroke-width="0.9">
<line x1="185.65" x2="185.65" y1="545.7" y2="680.4"/>
<line x1="190.41" x2="190.41" y1="545.7" y2="680.4"/>
<line x1="199.94" x2="199.94" y1="545.7" y2="680.4"/>
<line x1="216.62" x2="216.62" y1="545.7" y2="680.4"/>
<line x1="233.30" x2="233.30" y1="545.7" y2="680.4"/>
<line x1="249.97" x2="249.97" y1="545.7" y2="680.4"/>
<line x1="266.65" x2="266.65" y1="545.7" y2="680.4"/>
<line x1="181.6" x2="270.7" y1="561.60" y2="561.60"/>
<line x1="181.6" x2="270.7" y1="594.70" y2="594.70"/>
<line x1="181.6" x2="270.7" y1="628.10" y2="628.10"/>
<line x1="181.6" x2="270.7" y1="661.40" y2="661.40"/>
</g>
<clipPath id="cB21"><rect x="181.6" y="545.7" width="89.1" height="134.7"/></clipPath>
<g clip-path="url(#cB21)">
<path d="M185.65,644.52 C186.44,642.62 187.24,640.72 188.03,638.91 C188.83,637.11 189.62,635.41 190.41,633.73 C191.21,632.04 192.00,630.38 192.80,628.69 C193.59,627.01 194.39,625.32 195.18,623.56 C195.97,621.81 196.77,619.99 197.56,618.07 C198.36,616.16 199.15,614.16 199.94,612.10 C200.74,610.04 201.53,607.93 202.33,605.80 C203.12,603.66 203.91,601.51 204.71,599.37 C205.50,597.22 206.30,595.10 207.09,593.00 C207.89,590.90 208.68,588.84 209.47,586.93 C210.27,585.02 211.06,583.26 211.86,581.89 C212.65,580.52 213.44,579.54 214.24,579.19 C215.03,578.85 215.83,579.16 216.62,580.08 C217.41,581.00 218.21,582.55 219.00,584.40 C219.80,586.25 220.59,588.42 221.39,590.61 C222.18,592.79 222.97,595.01 223.77,597.14 C224.56,599.27 225.36,601.32 226.15,603.30 C226.94,605.29 227.74,607.21 228.53,609.06 C229.33,610.91 230.12,612.68 230.91,614.39 C231.71,616.09 232.50,617.72 233.30,619.27 C234.09,620.82 234.89,622.29 235.68,623.69 C236.47,625.08 237.27,626.39 238.06,627.62 C238.86,628.84 239.65,629.99 240.44,631.04 C241.24,632.09 242.03,633.06 242.83,633.94 C243.62,634.81 244.41,635.60 245.21,636.29 C246.00,636.98 246.80,637.57 247.59,638.07 C248.39,638.57 249.18,638.97 249.97,639.27 C250.77,639.57 251.56,639.77 252.36,639.86 C253.15,639.95 253.94,639.94 254.74,639.82 C255.53,639.70 256.33,639.48 257.12,639.14 C257.91,638.80 258.71,638.35 259.50,637.79 C260.30,637.22 261.09,636.54 261.89,635.75 C262.68,634.96 263.47,634.06 264.27,633.01 C265.06,631.96 265.86,630.75 266.65,629.54 L266.65,664.13 C265.86,664.38 265.06,664.63 264.27,664.80 C263.47,664.96 262.68,665.03 261.89,665.05 C261.09,665.06 260.30,665.01 259.50,664.89 C258.71,664.78 257.91,664.59 257.12,664.35 C256.33,664.11 255.53,663.80 254.74,663.44 C253.94,663.07 253.15,662.65 252.36,662.16 C251.56,661.68 250.77,661.14 249.97,660.55 C249.18,659.96 248.39,659.31 247.59,658.61 C246.80,657.91 246.00,657.16 245.21,656.36 C244.41,655.56 243.62,654.71 242.83,653.81 C242.03,652.91 241.24,651.97 240.44,650.98 C239.65,649.99 238.86,648.96 238.06,647.88 C237.27,646.81 236.47,645.69 235.68,644.54 C234.89,643.38 234.09,642.19 233.30,640.96 C232.50,639.72 231.71,638.46 230.91,637.15 C230.12,635.85 229.33,634.52 228.53,633.15 C227.74,631.78 226.94,630.38 226.15,628.95 C225.36,627.53 224.56,626.07 223.77,624.58 C222.97,623.09 222.18,621.56 221.39,620.07 C220.59,618.57 219.80,617.12 219.00,615.89 C218.21,614.67 217.41,613.69 216.62,613.16 C215.83,612.63 215.03,612.56 214.24,612.95 C213.44,613.34 212.65,614.20 211.86,615.30 C211.06,616.40 210.27,617.75 209.47,619.15 C208.68,620.56 207.89,622.03 207.09,623.46 C206.30,624.90 205.50,626.31 204.71,627.71 C203.91,629.12 203.12,630.53 202.33,631.94 C201.53,633.35 200.74,634.77 199.94,636.20 C199.15,637.64 198.36,639.09 197.56,640.56 C196.77,642.04 195.97,643.53 195.18,645.11 C194.39,646.69 193.59,648.35 192.80,650.17 C192.00,651.99 191.21,653.97 190.41,656.15 C189.62,658.33 188.83,660.71 188.03,663.48 C187.24,666.25 186.44,669.41 185.65,672.57 Z" fill="#999" fill-opacity="0.4"/>
<path d="M185.65,611.90 C187.24,608.20 188.83,604.50 190.41,601.00 C191.76,598.02 193.11,595.19 194.46,592.40 C196.69,587.80 198.91,583.31 201.14,578.90 C203.36,574.49 205.58,570.14 207.81,566.20 C210.07,562.18 212.33,558.58 214.60,555.40 C215.75,553.78 216.90,552.27 218.05,552.00 C219.16,551.74 220.27,552.62 221.39,553.80 C223.21,555.73 225.04,558.45 226.86,560.80 C229.01,563.56 231.15,565.81 233.30,567.50 C235.12,568.94 236.95,569.98 238.78,571.00 C242.59,573.13 246.40,575.19 250.21,574.90 C252.20,574.75 254.18,573.97 256.17,572.90 C259.66,571.02 263.16,568.26 266.65,565.50 L266.65,590.40 C263.16,589.88 259.66,589.37 256.17,590.40 C254.18,590.99 252.20,592.07 250.21,592.40 C246.40,593.03 242.59,590.86 238.78,588.50 C236.95,587.37 235.12,586.19 233.30,585.00 C231.15,583.61 229.01,582.20 226.86,580.30 C225.04,578.68 223.21,576.71 221.39,575.60 C220.27,574.93 219.16,574.58 218.05,574.90 C216.90,575.23 215.75,576.29 214.60,577.60 C212.33,580.17 210.07,583.72 207.81,587.70 C205.58,591.61 203.36,595.94 201.14,599.80 C198.91,603.66 196.69,607.06 194.46,611.90 C193.11,614.84 191.76,618.31 190.41,621.50 C188.83,625.26 187.24,628.63 185.65,632.00 Z" fill="#999" fill-opacity="0.4"/>
<path d="M185.65,658.54 C186.44,656.00 187.24,653.47 188.03,651.18 C188.83,648.90 189.62,646.87 190.41,644.94 C191.21,643.02 192.00,641.20 192.80,639.46 C193.59,637.72 194.39,636.05 195.18,634.39 C195.97,632.72 196.77,631.06 197.56,629.36 C198.36,627.66 199.15,625.92 199.94,624.16 C200.74,622.40 201.53,620.62 202.33,618.83 C203.12,617.05 203.91,615.25 204.71,613.46 C205.50,611.68 206.30,609.91 207.09,608.14 C207.89,606.38 208.68,604.62 209.47,602.98 C210.27,601.33 211.06,599.80 211.86,598.59 C212.65,597.38 213.44,596.48 214.24,596.13 C215.03,595.78 215.83,595.98 216.62,596.70 C217.41,597.43 218.21,598.69 219.00,600.22 C219.80,601.75 220.59,603.54 221.39,605.37 C222.18,607.20 222.97,609.06 223.77,610.87 C224.56,612.67 225.36,614.41 226.15,616.11 C226.94,617.81 227.74,619.46 228.53,621.07 C229.33,622.67 230.12,624.23 230.91,625.73 C231.71,627.23 232.50,628.68 233.30,630.07 C234.09,631.46 234.89,632.79 235.68,634.07 C236.47,635.34 237.27,636.56 238.06,637.71 C238.86,638.87 239.65,639.96 240.44,640.98 C241.24,642.01 242.03,642.97 242.83,643.86 C243.62,644.75 244.41,645.57 245.21,646.32 C246.00,647.07 246.80,647.75 247.59,648.35 C248.39,648.95 249.18,649.48 249.97,649.93 C250.77,650.38 251.56,650.75 252.36,651.04 C253.15,651.33 253.94,651.54 254.74,651.66 C255.53,651.79 256.33,651.83 257.12,651.78 C257.91,651.73 258.71,651.60 259.50,651.37 C260.30,651.14 261.09,650.82 261.89,650.42 C262.68,650.01 263.47,649.52 264.27,648.90 C265.06,648.28 265.86,647.54 266.65,646.80" fill="none" stroke="#3C5488" stroke-width="1.9" stroke-linejoin="round" stroke-linecap="butt"/>
<path d="M185.65,622.60 C187.24,619.09 188.83,615.58 190.41,611.90 C191.76,608.77 193.11,605.51 194.46,602.50 C196.69,597.54 198.91,593.24 201.14,589.00 C203.36,584.76 205.58,580.58 207.81,576.90 C210.07,573.16 212.33,569.94 214.60,566.80 C215.75,565.20 216.90,563.62 218.05,563.20 C219.16,562.80 220.27,563.48 221.39,564.30 C223.21,565.65 225.04,567.39 226.86,569.50 C229.01,571.98 231.15,574.98 233.30,576.90 C235.12,578.54 236.95,579.40 238.78,580.30 C242.59,582.18 246.40,584.25 250.21,584.00 C252.20,583.87 254.18,583.12 256.17,582.30 C259.66,580.86 263.16,579.23 266.65,577.60" fill="none" stroke="#E64B35" stroke-width="1.9" stroke-linejoin="round" stroke-linecap="butt"/>
</g>
<rect x="181.6" y="545.7" width="89.1" height="134.7" fill="none" stroke="#666" stroke-width="1"/>
<g stroke="#333" stroke-width="0.9">
<line x1="185.65" x2="185.65" y1="680.4" y2="683.0"/>
<line x1="190.41" x2="190.41" y1="680.4" y2="683.0"/>
<line x1="199.94" x2="199.94" y1="680.4" y2="683.0"/>
<line x1="216.62" x2="216.62" y1="680.4" y2="683.0"/>
<line x1="233.30" x2="233.30" y1="680.4" y2="683.0"/>
<line x1="249.97" x2="249.97" y1="680.4" y2="683.0"/>
<line x1="266.65" x2="266.65" y1="680.4" y2="683.0"/>
<line x1="179.0" x2="181.6" y1="561.60" y2="561.60"/>
<line x1="179.0" x2="181.6" y1="594.70" y2="594.70"/>
<line x1="179.0" x2="181.6" y1="628.10" y2="628.10"/>
<line x1="179.0" x2="181.6" y1="661.40" y2="661.40"/>
<line x1="270.7" x2="273.3" y1="561.60" y2="561.60"/>
<line x1="270.7" x2="273.3" y1="594.70" y2="594.70"/>
<line x1="270.7" x2="273.3" y1="628.10" y2="628.10"/>
<line x1="270.7" x2="273.3" y1="661.40" y2="661.40"/>
</g>
<g font-size="7.8" font-family="Liberation Sans, sans-serif">
<text x="178.0" y="564.35" text-anchor="end" fill="#3C5488">60</text>
<text x="178.0" y="597.45" text-anchor="end" fill="#3C5488">40</text>
<text x="178.0" y="630.85" text-anchor="end" fill="#3C5488">20</text>
<text x="178.0" y="664.15" text-anchor="end" fill="#3C5488">0</text>
<text x="274.9" y="564.35" fill="#E64B35">6</text>
<text x="274.9" y="597.45" fill="#E64B35">4</text>
<text x="274.9" y="630.85" fill="#E64B35">2</text>
<text x="274.9" y="664.15" fill="#E64B35">0</text>
<text x="185.65" y="689.6" text-anchor="middle" fill="#4D4D4D">1</text>
<text x="190.41" y="689.6" text-anchor="middle" fill="#4D4D4D">3</text>
<text x="199.94" y="689.6" text-anchor="middle" fill="#4D4D4D">7</text>
<text x="216.62" y="689.6" text-anchor="middle" fill="#4D4D4D">14</text>
<text x="233.30" y="689.6" text-anchor="middle" fill="#4D4D4D">21</text>
<text x="249.97" y="689.6" text-anchor="middle" fill="#4D4D4D">28</text>
<text x="266.65" y="689.6" text-anchor="middle" fill="#4D4D4D">35</text>
</g>
<g stroke="#EBEBEB" stroke-width="0.9">
<line x1="315.12" x2="315.12" y1="545.7" y2="680.4"/>
<line x1="319.97" x2="319.97" y1="545.7" y2="680.4"/>
<line x1="329.67" x2="329.67" y1="545.7" y2="680.4"/>
<line x1="346.65" x2="346.65" y1="545.7" y2="680.4"/>
<line x1="363.63" x2="363.63" y1="545.7" y2="680.4"/>
<line x1="380.60" x2="380.60" y1="545.7" y2="680.4"/>
<line x1="397.58" x2="397.58" y1="545.7" y2="680.4"/>
<line x1="311.0" x2="401.7" y1="547.70" y2="547.70"/>
<line x1="311.0" x2="401.7" y1="569.65" y2="569.65"/>
<line x1="311.0" x2="401.7" y1="591.40" y2="591.40"/>
<line x1="311.0" x2="401.7" y1="613.40" y2="613.40"/>
<line x1="311.0" x2="401.7" y1="635.20" y2="635.20"/>
<line x1="311.0" x2="401.7" y1="657.00" y2="657.00"/>
</g>
<clipPath id="cB22"><rect x="311.0" y="545.7" width="90.7" height="134.7"/></clipPath>
<g clip-path="url(#cB22)">
<path d="M315.12,581.00 C316.38,583.36 317.63,585.73 318.88,588.00 C320.62,591.15 322.36,594.12 324.10,597.00 C326.30,600.66 328.51,604.17 330.72,607.90 C332.91,611.60 335.10,615.51 337.29,619.70 C339.48,623.89 341.67,628.38 343.86,632.90 C345.60,636.49 347.34,640.10 349.07,642.00 C350.85,643.94 352.63,644.08 354.41,644.00 C356.59,643.90 358.78,643.48 360.96,643.40 C362.70,643.34 364.45,643.50 366.20,643.60 C368.82,643.75 371.43,643.78 374.05,644.00 C376.72,644.23 379.39,644.66 382.06,644.50 C384.64,644.35 387.23,643.64 389.82,642.30 C392.40,640.96 394.99,638.98 397.58,637.00 L397.58,675.00 C394.99,673.87 392.40,672.74 389.82,672.00 C387.23,671.26 384.64,670.90 382.06,670.50 C379.39,670.09 376.72,669.62 374.05,669.60 C371.43,669.58 368.82,669.98 366.20,670.30 C364.45,670.51 362.70,670.68 360.96,670.80 C358.78,670.95 356.59,671.01 354.41,671.80 C352.63,672.45 350.85,673.58 349.07,672.30 C347.34,671.05 345.60,667.51 343.86,664.00 C341.67,659.57 339.48,655.20 337.29,650.50 C335.10,645.80 332.91,640.77 330.72,636.00 C328.51,631.19 326.30,626.65 324.10,622.30 C322.36,618.87 320.62,615.57 318.88,612.00 C317.63,609.43 316.38,606.71 315.12,604.00 Z" fill="#999" fill-opacity="0.4"/>
<path d="M315.12,570.20 C316.90,568.75 318.68,567.29 320.46,565.50 C323.13,562.81 325.79,559.36 328.46,557.50 C330.72,555.92 332.99,555.48 335.25,554.70 C337.43,553.95 339.62,552.87 341.80,552.30 C343.17,551.94 344.55,551.78 345.92,552.50 C347.94,553.56 349.96,556.54 351.98,558.90 C353.60,560.79 355.22,562.28 356.84,564.00 C358.45,565.72 360.07,567.68 361.69,569.00 C363.79,570.72 365.89,571.37 367.99,572.00 C370.17,572.66 372.36,573.29 374.54,573.80 C376.40,574.23 378.26,574.57 380.12,575.00 C382.86,575.64 385.61,576.49 388.36,576.00 C391.43,575.45 394.51,573.23 397.58,571.00 L397.58,592.40 C394.51,591.69 391.43,590.98 388.36,590.40 C385.61,589.88 382.86,589.47 380.12,589.00 C378.26,588.68 376.40,588.33 374.54,587.90 C372.36,587.39 370.17,586.77 367.99,586.00 C365.89,585.26 363.79,584.37 361.69,583.10 C360.07,582.12 358.45,580.92 356.84,579.50 C355.22,578.08 353.60,576.44 351.98,575.00 C349.96,573.21 347.94,571.73 345.92,571.00 C344.55,570.50 343.17,570.34 341.80,570.50 C339.62,570.75 337.43,571.80 335.25,572.80 C332.99,573.83 330.72,574.81 328.46,576.00 C325.79,577.40 323.13,579.09 320.46,581.00 C318.68,582.27 316.90,583.64 315.12,585.00 Z" fill="#999" fill-opacity="0.4"/>
<path d="M315.12,593.00 C316.38,595.48 317.63,597.96 318.88,600.50 C320.62,604.03 322.36,607.67 324.10,611.00 C326.30,615.23 328.51,618.95 330.72,622.80 C332.91,626.62 335.10,630.58 337.29,635.20 C339.48,639.82 341.67,645.11 343.86,649.50 C345.60,652.98 347.34,655.89 349.07,657.20 C350.85,658.54 352.63,658.20 354.41,657.80 C356.59,657.31 358.78,656.72 360.96,656.80 C362.70,656.86 364.45,657.35 366.20,657.60 C368.82,657.98 371.43,657.83 374.05,657.60 C376.72,657.37 379.39,657.07 382.06,656.90 C384.64,656.74 387.23,656.71 389.82,656.50 C392.40,656.29 394.99,655.89 397.58,655.50" fill="none" stroke="#3C5488" stroke-width="1.9" stroke-linejoin="round" stroke-linecap="butt"/>
<path d="M315.12,578.30 C316.90,577.00 318.68,575.69 320.46,574.20 C323.13,571.96 325.79,569.31 328.46,567.50 C330.72,565.97 332.99,565.05 335.25,564.10 C337.43,563.19 339.62,562.26 341.80,561.90 C343.17,561.68 344.55,561.68 345.92,562.10 C347.94,562.72 349.96,564.23 351.98,566.30 C353.60,567.96 355.22,569.98 356.84,571.80 C358.45,573.62 360.07,575.25 361.69,576.50 C363.79,578.12 365.89,579.10 367.99,579.90 C370.17,580.73 372.36,581.38 374.54,581.90 C376.40,582.34 378.26,582.68 380.12,582.90 C382.86,583.22 385.61,583.28 388.36,583.10 C391.43,582.90 394.51,582.40 397.58,581.90" fill="none" stroke="#E64B35" stroke-width="1.9" stroke-linejoin="round" stroke-linecap="butt"/>
</g>
<rect x="311.0" y="545.7" width="90.7" height="134.7" fill="none" stroke="#666" stroke-width="1"/>
<g stroke="#333" stroke-width="0.9">
<line x1="315.12" x2="315.12" y1="680.4" y2="683.0"/>
<line x1="319.97" x2="319.97" y1="680.4" y2="683.0"/>
<line x1="329.67" x2="329.67" y1="680.4" y2="683.0"/>
<line x1="346.65" x2="346.65" y1="680.4" y2="683.0"/>
<line x1="363.63" x2="363.63" y1="680.4" y2="683.0"/>
<line x1="380.60" x2="380.60" y1="680.4" y2="683.0"/>
<line x1="397.58" x2="397.58" y1="680.4" y2="683.0"/>
<line x1="308.4" x2="311.0" y1="547.70" y2="547.70"/>
<line x1="308.4" x2="311.0" y1="569.65" y2="569.65"/>
<line x1="308.4" x2="311.0" y1="591.40" y2="591.40"/>
<line x1="308.4" x2="311.0" y1="613.40" y2="613.40"/>
<line x1="308.4" x2="311.0" y1="635.20" y2="635.20"/>
<line x1="308.4" x2="311.0" y1="657.00" y2="657.00"/>
<line x1="401.7" x2="404.3" y1="547.70" y2="547.70"/>
<line x1="401.7" x2="404.3" y1="569.65" y2="569.65"/>
<line x1="401.7" x2="404.3" y1="591.40" y2="591.40"/>
<line x1="401.7" x2="404.3" y1="613.40" y2="613.40"/>
<line x1="401.7" x2="404.3" y1="635.20" y2="635.20"/>
<line x1="401.7" x2="404.3" y1="657.00" y2="657.00"/>
</g>
<g font-size="7.8" font-family="Liberation Sans, sans-serif">
<text x="307.4" y="550.45" text-anchor="end" fill="#3C5488">50</text>
<text x="307.4" y="572.40" text-anchor="end" fill="#3C5488">40</text>
<text x="307.4" y="594.15" text-anchor="end" fill="#3C5488">30</text>
<text x="307.4" y="616.15" text-anchor="end" fill="#3C5488">20</text>
<text x="307.4" y="637.95" text-anchor="end" fill="#3C5488">10</text>
<text x="307.4" y="659.75" text-anchor="end" fill="#3C5488">0</text>
<text x="405.9" y="550.45" fill="#E64B35">5</text>
<text x="405.9" y="572.40" fill="#E64B35">4</text>
<text x="405.9" y="594.15" fill="#E64B35">3</text>
<text x="405.9" y="616.15" fill="#E64B35">2</text>
<text x="405.9" y="637.95" fill="#E64B35">1</text>
<text x="405.9" y="659.75" fill="#E64B35">0</text>
<text x="315.12" y="689.6" text-anchor="middle" fill="#4D4D4D">1</text>
<text x="319.97" y="689.6" text-anchor="middle" fill="#4D4D4D">3</text>
<text x="329.67" y="689.6" text-anchor="middle" fill="#4D4D4D">7</text>
<text x="346.65" y="689.6" text-anchor="middle" fill="#4D4D4D">14</text>
<text x="363.63" y="689.6" text-anchor="middle" fill="#4D4D4D">21</text>
<text x="380.60" y="689.6" text-anchor="middle" fill="#4D4D4D">28</text>
<text x="397.58" y="689.6" text-anchor="middle" fill="#4D4D4D">35</text>
</g>
<g stroke="#EBEBEB" stroke-width="0.9">
<line x1="441.92" x2="441.92" y1="545.7" y2="680.4"/>
<line x1="446.89" x2="446.89" y1="545.7" y2="680.4"/>
<line x1="456.83" x2="456.83" y1="545.7" y2="680.4"/>
<line x1="474.21" x2="474.21" y1="545.7" y2="680.4"/>
<line x1="491.60" x2="491.60" y1="545.7" y2="680.4"/>
<line x1="508.99" x2="508.99" y1="545.7" y2="680.4"/>
<line x1="526.38" x2="526.38" y1="545.7" y2="680.4"/>
<line x1="437.7" x2="530.6" y1="551.50" y2="551.50"/>
<line x1="437.7" x2="530.6" y1="585.20" y2="585.20"/>
<line x1="437.7" x2="530.6" y1="618.60" y2="618.60"/>
<line x1="437.7" x2="530.6" y1="652.30" y2="652.30"/>
</g>
<clipPath id="cB23"><rect x="437.7" y="545.7" width="92.9" height="134.7"/></clipPath>
<g clip-path="url(#cB23)">
<path d="M442.27,636.00 C444.22,633.15 446.18,630.29 448.13,628.00 C449.95,625.86 451.78,624.21 453.60,623.00 C455.46,621.76 457.32,620.98 459.19,619.00 C461.05,617.02 462.91,613.85 464.78,611.50 C466.60,609.21 468.42,607.71 470.24,606.50 C472.06,605.29 473.88,604.38 475.70,604.50 C477.61,604.63 479.51,605.90 481.42,607.50 C483.24,609.03 485.06,610.87 486.88,612.00 C488.75,613.15 490.61,613.55 492.47,614.50 C494.75,615.66 497.03,617.62 499.30,619.50 C501.62,621.42 503.94,623.24 506.26,625.00 C509.07,627.13 511.89,629.15 514.70,630.50 C518.59,632.36 522.49,632.93 526.38,633.50 L526.38,674.00 C522.49,670.12 518.59,666.24 514.70,663.50 C511.89,661.52 509.07,660.13 506.26,658.50 C503.94,657.16 501.62,655.65 499.30,654.00 C497.03,652.38 494.75,650.63 492.47,649.50 C490.61,648.58 488.75,648.08 486.88,647.00 C485.06,645.94 483.24,644.33 481.42,643.50 C479.51,642.63 477.61,642.61 475.70,642.80 C473.88,642.98 472.06,643.35 470.24,644.00 C468.42,644.65 466.60,645.56 464.78,646.50 C462.91,647.46 461.05,648.44 459.19,649.50 C457.32,650.56 455.46,651.71 453.60,653.50 C451.78,655.25 449.95,657.61 448.13,660.50 C446.18,663.60 444.22,667.30 442.27,671.00 Z" fill="#999" fill-opacity="0.4"/>
<path d="M442.42,620.00 C444.20,615.26 445.98,610.51 447.76,606.00 C449.54,601.49 451.32,597.21 453.10,593.00 C454.90,588.75 456.69,584.58 458.49,580.50 C460.28,576.44 462.07,572.49 463.86,569.00 C465.65,565.50 467.45,562.47 469.25,559.40 C471.27,555.95 473.29,552.44 475.31,552.00 C477.51,551.52 479.71,554.68 481.91,557.50 C484.65,560.99 487.38,563.95 490.11,566.00 C492.35,567.67 494.58,568.74 496.82,570.00 C499.96,571.78 503.11,573.96 506.26,575.00 C509.36,576.02 512.47,575.93 515.57,575.00 C519.17,573.92 522.78,571.71 526.38,569.50 L526.38,604.50 C522.78,603.35 519.17,602.20 515.57,601.50 C512.47,600.89 509.36,600.62 506.26,600.00 C503.11,599.37 499.96,598.40 496.82,597.00 C494.58,596.01 492.35,594.80 490.11,593.00 C487.38,590.80 484.65,587.73 481.91,586.00 C479.71,584.61 477.51,584.08 475.31,585.00 C473.29,585.84 471.27,587.89 469.25,590.40 C467.45,592.63 465.65,595.23 463.86,598.40 C462.07,601.55 460.28,605.26 458.49,609.20 C456.69,613.16 454.90,617.34 453.10,621.30 C451.32,625.22 449.54,628.92 447.76,634.00 C445.98,639.08 444.20,645.54 442.42,652.00 Z" fill="#999" fill-opacity="0.4"/>
<path d="M442.27,653.00 C444.22,650.59 446.18,648.18 448.13,645.80 C449.95,643.59 451.78,641.40 453.60,639.50 C455.46,637.55 457.32,635.90 459.19,634.00 C461.05,632.10 462.91,629.97 464.78,628.40 C466.60,626.87 468.42,625.88 470.24,625.00 C472.06,624.12 473.88,623.35 475.70,623.30 C477.61,623.24 479.51,623.97 481.42,625.00 C483.24,625.99 485.06,627.26 486.88,628.40 C488.75,629.57 490.61,630.61 492.47,631.90 C494.75,633.48 497.03,635.45 499.30,637.40 C501.62,639.38 503.94,641.35 506.26,643.00 C509.07,645.01 511.89,646.56 514.70,647.90 C518.59,649.76 522.49,651.23 526.38,652.70" fill="none" stroke="#3C5488" stroke-width="1.9" stroke-linejoin="round" stroke-linecap="butt"/>
<path d="M442.42,636.00 C444.20,631.02 445.98,626.04 447.76,621.30 C449.54,616.56 451.32,612.06 453.10,607.80 C454.90,603.50 456.69,599.46 458.49,595.70 C460.28,591.96 462.07,588.50 463.86,585.00 C465.65,581.48 467.45,577.92 469.25,574.90 C471.27,571.50 473.29,568.80 475.31,568.20 C477.51,567.55 479.71,569.41 481.91,571.50 C484.65,574.09 487.38,577.03 490.11,578.90 C492.35,580.43 494.58,581.24 496.82,582.30 C499.96,583.79 503.11,585.77 506.26,587.00 C509.36,588.21 512.47,588.70 515.57,588.70 C519.17,588.70 522.78,588.05 526.38,587.40" fill="none" stroke="#E64B35" stroke-width="1.9" stroke-linejoin="round" stroke-linecap="butt"/>
</g>
<rect x="437.7" y="545.7" width="92.9" height="134.7" fill="none" stroke="#666" stroke-width="1"/>
<g stroke="#333" stroke-width="0.9">
<line x1="441.92" x2="441.92" y1="680.4" y2="683.0"/>
<line x1="446.89" x2="446.89" y1="680.4" y2="683.0"/>
<line x1="456.83" x2="456.83" y1="680.4" y2="683.0"/>
<line x1="474.21" x2="474.21" y1="680.4" y2="683.0"/>
<line x1="491.60" x2="491.60" y1="680.4" y2="683.0"/>
<line x1="508.99" x2="508.99" y1="680.4" y2="683.0"/>
<line x1="526.38" x2="526.38" y1="680.4" y2="683.0"/>
<line x1="435.1" x2="437.7" y1="551.50" y2="551.50"/>
<line x1="435.1" x2="437.7" y1="585.20" y2="585.20"/>
<line x1="435.1" x2="437.7" y1="618.60" y2="618.60"/>
<line x1="435.1" x2="437.7" y1="652.30" y2="652.30"/>
<line x1="530.6" x2="533.2" y1="551.50" y2="551.50"/>
<line x1="530.6" x2="533.2" y1="585.20" y2="585.20"/>
<line x1="530.6" x2="533.2" y1="618.60" y2="618.60"/>
<line x1="530.6" x2="533.2" y1="652.30" y2="652.30"/>
</g>
<g font-size="7.8" font-family="Liberation Sans, sans-serif">
<text x="434.1" y="554.25" text-anchor="end" fill="#3C5488">60</text>
<text x="434.1" y="587.95" text-anchor="end" fill="#3C5488">40</text>
<text x="434.1" y="621.35" text-anchor="end" fill="#3C5488">20</text>
<text x="434.1" y="655.05" text-anchor="end" fill="#3C5488">0</text>
<text x="534.8" y="554.25" fill="#E64B35">6</text>
<text x="534.8" y="587.95" fill="#E64B35">4</text>
<text x="534.8" y="621.35" fill="#E64B35">2</text>
<text x="534.8" y="655.05" fill="#E64B35">0</text>
<text x="441.92" y="689.6" text-anchor="middle" fill="#4D4D4D">1</text>
<text x="446.89" y="689.6" text-anchor="middle" fill="#4D4D4D">3</text>
<text x="456.83" y="689.6" text-anchor="middle" fill="#4D4D4D">7</text>
<text x="474.21" y="689.6" text-anchor="middle" fill="#4D4D4D">14</text>
<text x="491.60" y="689.6" text-anchor="middle" fill="#4D4D4D">21</text>
<text x="508.99" y="689.6" text-anchor="middle" fill="#4D4D4D">28</text>
<text x="526.38" y="689.6" text-anchor="middle" fill="#4D4D4D">35</text>
</g>
<g stroke="#EBEBEB" stroke-width="0.9">
<line x1="568.92" x2="568.92" y1="545.7" y2="680.4"/>
<line x1="573.89" x2="573.89" y1="545.7" y2="680.4"/>
<line x1="583.83" x2="583.83" y1="545.7" y2="680.4"/>
<line x1="601.21" x2="601.21" y1="545.7" y2="680.4"/>
<line x1="618.60" x2="618.60" y1="545.7" y2="680.4"/>
<line x1="635.99" x2="635.99" y1="545.7" y2="680.4"/>
<line x1="653.38" x2="653.38" y1="545.7" y2="680.4"/>
<line x1="564.7" x2="657.6" y1="555.70" y2="555.70"/>
<line x1="564.7" x2="657.6" y1="589.20" y2="589.20"/>
<line x1="564.7" x2="657.6" y1="622.70" y2="622.70"/>
<line x1="564.7" x2="657.6" y1="656.30" y2="656.30"/>
</g>
<clipPath id="cB24"><rect x="564.7" y="545.7" width="92.9" height="134.7"/></clipPath>
<g clip-path="url(#cB24)">
<path d="M568.92,649.90 C570.58,650.23 572.23,650.57 573.89,651.00 C577.20,651.87 580.51,653.13 583.83,653.90 C586.72,654.57 589.62,654.86 592.52,655.00 C595.42,655.14 598.32,655.13 601.21,655.00 C604.11,654.87 607.01,654.62 609.91,654.50 C612.81,654.38 615.70,654.37 618.60,654.30 C621.50,654.23 624.40,654.08 627.30,654.00 C630.19,653.92 633.09,653.91 635.99,653.90 C638.89,653.89 641.79,653.90 644.68,653.90 C647.58,653.90 650.48,653.90 653.38,653.90 L653.38,659.00 C650.48,658.93 647.58,658.85 644.68,658.80 C641.79,658.75 638.89,658.71 635.99,658.70 C633.09,658.69 630.19,658.71 627.30,658.70 C624.40,658.69 621.50,658.65 618.60,658.70 C615.70,658.75 612.81,658.90 609.91,659.20 C607.01,659.50 604.11,659.95 601.21,660.00 C598.32,660.05 595.42,659.70 592.52,659.50 C589.62,659.30 586.72,659.24 583.83,658.70 C580.51,658.09 577.20,656.86 573.89,656.00 C572.23,655.57 570.58,655.24 568.92,654.90 Z" fill="#999" fill-opacity="0.4"/>
<path d="M568.92,613.60 C570.58,614.74 572.23,615.89 573.89,615.60 C577.20,615.03 580.51,608.73 583.83,604.50 C586.72,600.80 589.62,598.69 592.52,594.50 C595.42,590.31 598.32,584.04 601.21,584.40 C604.11,584.76 607.01,591.75 609.91,596.50 C612.81,601.25 615.70,603.75 618.60,604.50 C621.50,605.25 624.40,604.24 627.30,602.50 C630.19,600.76 633.09,598.29 635.99,594.50 C638.89,590.71 641.79,585.59 644.68,578.30 C647.58,571.01 650.48,561.56 653.38,552.10 L653.38,622.70 C650.48,627.03 647.58,631.36 644.68,635.80 C641.79,640.24 638.89,644.78 635.99,647.90 C633.09,651.02 630.19,652.70 627.30,654.50 C624.40,656.30 621.50,658.22 618.60,657.00 C615.70,655.78 612.81,651.43 609.91,649.90 C607.01,648.37 604.11,649.65 601.21,650.50 C598.32,651.35 595.42,651.79 592.52,652.50 C589.62,653.21 586.72,654.21 583.83,653.90 C580.51,653.54 577.20,651.47 573.89,659.00 C572.23,662.77 570.58,668.93 568.92,675.10 Z" fill="#999" fill-opacity="0.4"/>
<path d="M568.92,652.50 C570.58,652.83 572.23,653.17 573.89,653.50 C577.20,654.16 580.51,654.81 583.83,655.50 C586.72,656.10 589.62,656.74 592.52,657.00 C595.42,657.26 598.32,657.16 601.21,657.00 C604.11,656.84 607.01,656.62 609.91,656.50 C612.81,656.38 615.70,656.35 618.60,656.30 C621.50,656.25 624.40,656.18 627.30,656.10 C630.19,656.02 633.09,655.93 635.99,655.90 C638.89,655.87 641.79,655.89 644.68,655.90 C647.58,655.91 650.48,655.90 653.38,655.90" fill="none" stroke="#3C5488" stroke-width="1.9" stroke-linejoin="round" stroke-linecap="butt"/>
<path d="M568.92,643.40 C570.58,641.88 572.23,640.36 573.89,638.80 C577.20,635.68 580.51,632.41 583.83,629.70 C586.72,627.33 589.62,625.40 592.52,622.70 C595.42,620.00 598.32,616.52 601.21,616.60 C604.11,616.68 607.01,620.31 609.91,623.70 C612.81,627.09 615.70,630.22 618.60,631.10 C621.50,631.98 624.40,630.60 627.30,628.70 C630.19,626.80 633.09,624.36 635.99,620.70 C638.89,617.04 641.79,612.15 644.68,606.50 C647.58,600.85 650.48,594.42 653.38,588.00" fill="none" stroke="#E64B35" stroke-width="1.9" stroke-linejoin="round" stroke-linecap="butt"/>
</g>
<rect x="564.7" y="545.7" width="92.9" height="134.7" fill="none" stroke="#666" stroke-width="1"/>
<g stroke="#333" stroke-width="0.9">
<line x1="568.92" x2="568.92" y1="680.4" y2="683.0"/>
<line x1="573.89" x2="573.89" y1="680.4" y2="683.0"/>
<line x1="583.83" x2="583.83" y1="680.4" y2="683.0"/>
<line x1="601.21" x2="601.21" y1="680.4" y2="683.0"/>
<line x1="618.60" x2="618.60" y1="680.4" y2="683.0"/>
<line x1="635.99" x2="635.99" y1="680.4" y2="683.0"/>
<line x1="653.38" x2="653.38" y1="680.4" y2="683.0"/>
<line x1="562.1" x2="564.7" y1="555.70" y2="555.70"/>
<line x1="562.1" x2="564.7" y1="589.20" y2="589.20"/>
<line x1="562.1" x2="564.7" y1="622.70" y2="622.70"/>
<line x1="562.1" x2="564.7" y1="656.30" y2="656.30"/>
<line x1="657.6" x2="660.2" y1="555.70" y2="555.70"/>
<line x1="657.6" x2="660.2" y1="589.20" y2="589.20"/>
<line x1="657.6" x2="660.2" y1="622.70" y2="622.70"/>
<line x1="657.6" x2="660.2" y1="656.30" y2="656.30"/>
</g>
<g font-size="7.8" font-family="Liberation Sans, sans-serif">
<text x="561.1" y="558.45" text-anchor="end" fill="#3C5488">30</text>
<text x="561.1" y="591.95" text-anchor="end" fill="#3C5488">20</text>
<text x="561.1" y="625.45" text-anchor="end" fill="#3C5488">10</text>
<text x="561.1" y="659.05" text-anchor="end" fill="#3C5488">0</text>
<text x="661.8" y="558.45" fill="#E64B35">3</text>
<text x="661.8" y="591.95" fill="#E64B35">2</text>
<text x="661.8" y="625.45" fill="#E64B35">1</text>
<text x="661.8" y="659.05" fill="#E64B35">0</text>
<text x="568.92" y="689.6" text-anchor="middle" fill="#4D4D4D">1</text>
<text x="573.89" y="689.6" text-anchor="middle" fill="#4D4D4D">3</text>
<text x="583.83" y="689.6" text-anchor="middle" fill="#4D4D4D">7</text>
<text x="601.21" y="689.6" text-anchor="middle" fill="#4D4D4D">14</text>
<text x="618.60" y="689.6" text-anchor="middle" fill="#4D4D4D">21</text>
<text x="635.99" y="689.6" text-anchor="middle" fill="#4D4D4D">28</text>
<text x="653.38" y="689.6" text-anchor="middle" fill="#4D4D4D">35</text>
</g>
<text transform="translate(676.8,604.1) rotate(90)" text-anchor="middle" font-size="8.75" font-family="Liberation Sans, sans-serif" fill="#E64B35">Log10 (copies per gram)</text>
</svg></body></html>
